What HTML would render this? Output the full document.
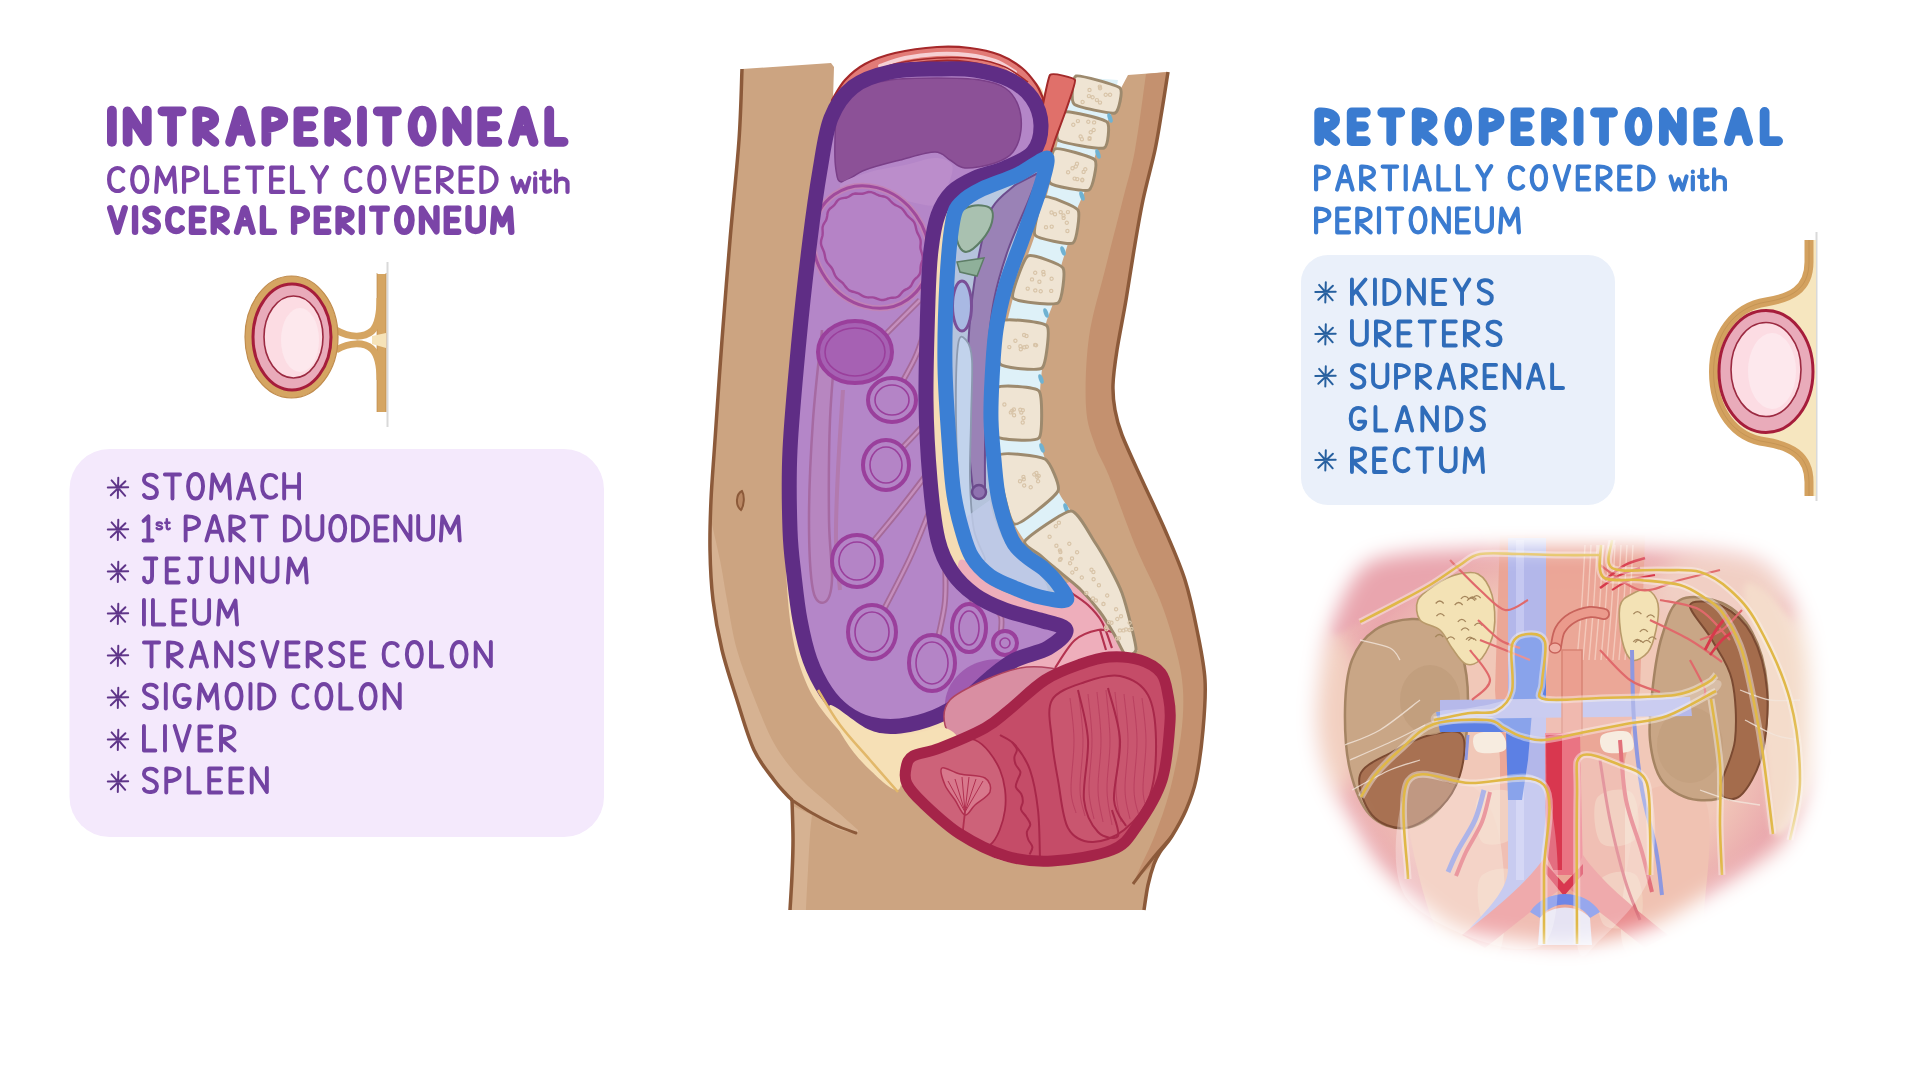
<!DOCTYPE html>
<html><head><meta charset="utf-8"><title>Intraperitoneal vs Retroperitoneal</title>
<style>
html,body{margin:0;padding:0;background:#fff;}
body{width:1920px;height:1080px;overflow:hidden;position:relative;font-family:"Liberation Sans",sans-serif;}
svg{position:absolute;left:0;top:0;}
.tb{font-family:"Liberation Sans",sans-serif;font-weight:bold;}
.tr{font-family:"Liberation Sans",sans-serif;font-weight:normal;}
</style></head>
<body>
<svg width="1920" height="1080" viewBox="0 0 1920 1080">
<defs>
  <g id="ast">
    <path d="M0.3,-10.2L-0.2,10M-10.2,-0.6L10.2,-0.8M-6.4,-7.6L7.2,7.8M7.4,-6.8L-7.2,7.2" stroke-width="2" stroke-linecap="round" fill="none"/>
  </g>
</defs>

<!-- ===== LEFT: INTRAPERITONEAL ===== -->


<!-- intraperitoneal icon -->
<g id="icon1">
  <line x1="387.5" y1="262" x2="387.5" y2="427" stroke="#d9d9d9" stroke-width="2"/>
  <path d="M381.5,274 V412" stroke="#d5a562" stroke-width="9" fill="none"/>
  <path d="M377,273 V412 M386,273 V412" stroke="#be8c4e" stroke-width="1" fill="none" opacity="0.7"/>
  <path d="M372,336 L386,333 L386,348 L372,344Z" fill="#f6e3b8"/>
  <path d="M336,330 C350,338 364,338 372,331 C378,325 380,315 380,298" stroke="#d5a562" stroke-width="7" fill="none"/>
  <path d="M336,350 C350,342 364,342 372,349 C378,355 380,365 380,380" stroke="#d5a562" stroke-width="7" fill="none"/>
  <ellipse cx="291.5" cy="337" rx="46.5" ry="61" fill="#d5a562" stroke="#c08c4e" stroke-width="1.2"/>
  <ellipse cx="292" cy="337" rx="39" ry="53" fill="#e9abba" stroke="#a61d3b" stroke-width="3"/>
  <ellipse cx="293.5" cy="337" rx="29.5" ry="41" fill="#fcdce3" stroke="#9b2a41" stroke-width="1.6"/>
  <ellipse cx="300" cy="340" rx="19" ry="32" fill="#fde8ed"/>
</g>

<!-- list box left -->
<rect x="69.5" y="449" width="534.5" height="388" rx="40" ry="40" fill="#f4e9fc"/>

<g stroke="#5f3589">
  <use href="#ast" x="118" y="488"/>
  <use href="#ast" x="118" y="530"/>
  <use href="#ast" x="118" y="572"/>
  <use href="#ast" x="118" y="614"/>
  <use href="#ast" x="118" y="656"/>
  <use href="#ast" x="118" y="698"/>
  <use href="#ast" x="118" y="740"/>
  <use href="#ast" x="118" y="782"/>
</g>

<!-- ===== RIGHT: RETROPERITONEAL ===== -->


<rect x="1301" y="255" width="314" height="250" rx="27" ry="27" fill="#eaf0fa"/>

<g stroke="#27609f">
  <use href="#ast" x="1325.5" y="292.5"/>
  <use href="#ast" x="1325.5" y="334.5"/>
  <use href="#ast" x="1325.5" y="376.5"/>
  <use href="#ast" x="1325.5" y="460.5"/>
</g>

<!-- retroperitoneal icon -->
<g id="icon2">
  <line x1="1816.5" y1="232" x2="1816.5" y2="501" stroke="#d9d9d9" stroke-width="2"/>
  <path d="M1813,240 V262 C1813,292 1792,300 1766,304 C1735,309 1716,336 1716,372 C1716,408 1735,436 1766,440 C1792,444 1813,452 1813,482 V496 L1816,496 V240 Z" fill="#f6e6bf"/>
  <path d="M1809,240 V262 C1809,290 1790,298 1766,302 C1734,307 1713.5,335 1713.5,372 C1713.5,410 1734,438 1766,442 C1790,446 1809,455 1809,482 V496" stroke="#d3a15f" stroke-width="9" fill="none"/>
  <path d="M1809,240 V262 C1809,290 1790,298 1766,302 C1734,307 1713.5,335 1713.5,372 C1713.5,410 1734,438 1766,442 C1790,446 1809,455 1809,482 V496" stroke="#b8874a" stroke-width="1" fill="none" opacity="0.5"/>
  <ellipse cx="1766" cy="371.5" rx="47" ry="61" fill="#e9abba" stroke="#a61d3b" stroke-width="3"/>
  <ellipse cx="1766" cy="369.5" rx="35" ry="47" fill="#fcdce3" stroke="#9b2a41" stroke-width="1.6"/>
  <ellipse cx="1772" cy="371" rx="24" ry="38" fill="#fde8ed"/>
</g>

<!-- CENTRAL FIGURE placeholder -->
<g id="center"><path d="M742.0,69.0 L831.0,63.0 L834.0,67.0 L833.0,100.0 L832.0,100.0 C834.2,96.7 839.5,86.0 845.0,80.0 C850.5,74.0 856.7,68.5 865.0,64.0 C873.3,59.5 883.0,55.8 895.0,53.0 C907.0,50.2 924.5,47.8 937.0,47.0 C949.5,46.2 959.5,46.7 970.0,48.0 C980.5,49.3 991.3,51.7 1000.0,55.0 C1008.7,58.3 1016.0,63.2 1022.0,68.0 C1028.0,72.8 1032.5,79.0 1036.0,84.0 C1039.5,89.0 1041.8,95.7 1043.0,98.0 L1050.0,75.0 L1075.0,80.0 L1078.0,77.0 L1120.0,90.0 L1128.0,75.0 L1168.0,72.0 C1167.0,78.3 1164.2,97.0 1162.0,110.0 C1159.8,123.0 1158.2,135.0 1155.0,150.0 C1151.8,165.0 1146.5,183.3 1143.0,200.0 C1139.5,216.7 1136.8,233.3 1134.0,250.0 C1131.2,266.7 1128.8,283.3 1126.0,300.0 C1123.2,316.7 1119.2,335.8 1117.0,350.0 C1114.8,364.2 1113.3,375.0 1113.0,385.0 C1112.7,395.0 1113.5,401.7 1115.0,410.0 C1116.5,418.3 1117.5,423.3 1122.0,435.0 C1126.5,446.7 1134.8,464.2 1142.0,480.0 C1149.2,495.8 1157.8,513.3 1165.0,530.0 C1172.2,546.7 1179.7,563.3 1185.0,580.0 C1190.3,596.7 1193.7,613.3 1197.0,630.0 C1200.3,646.7 1204.0,663.3 1205.0,680.0 C1206.0,696.7 1204.5,713.3 1203.0,730.0 C1201.5,746.7 1198.8,766.7 1196.0,780.0 C1193.2,793.3 1190.0,800.7 1186.0,810.0 C1182.0,819.3 1176.3,829.0 1172.0,836.0 C1167.7,843.0 1163.0,847.3 1160.0,852.0 C1157.0,856.7 1156.0,858.5 1154.0,864.0 C1152.0,869.5 1149.7,877.3 1148.0,885.0 C1146.3,892.7 1144.7,905.8 1144.0,910.0 L1145.0,910.0 L790.0,910.0 C790.3,904.2 791.5,886.7 792.0,875.0 C792.5,863.3 793.0,852.5 793.0,840.0 C793.0,827.5 792.2,806.7 792.0,800.0 C791.0,799.0 789.0,797.3 786.0,794.0 C783.0,790.7 779.3,787.3 774.0,780.0 C768.7,772.7 760.2,763.3 754.0,750.0 C747.8,736.7 742.3,716.7 737.0,700.0 C731.7,683.3 726.0,666.7 722.0,650.0 C718.0,633.3 715.0,616.7 713.0,600.0 C711.0,583.3 710.3,566.7 710.0,550.0 C709.7,533.3 710.2,518.3 711.0,500.0 C711.8,481.7 713.2,466.7 715.0,440.0 C716.8,413.3 719.5,373.3 722.0,340.0 C724.5,306.7 727.2,273.3 730.0,240.0 C732.8,206.7 737.0,168.5 739.0,140.0 C741.0,111.5 741.5,80.8 742.0,69.0Z" fill="#cca481"/><path d="M1146.0,74.0 C1144.2,86.7 1138.8,129.2 1135.0,150.0 C1131.2,170.8 1128.0,179.0 1123.0,199.0 C1118.0,219.0 1110.7,247.0 1105.0,270.0 C1099.3,293.0 1092.2,314.2 1089.0,337.0 C1085.8,359.8 1085.0,389.0 1086.0,407.0 C1087.0,425.0 1091.2,433.5 1095.0,445.0 C1098.8,456.5 1102.3,459.3 1109.0,476.0 C1115.7,492.7 1126.5,524.3 1135.0,545.0 C1143.5,565.7 1153.2,582.5 1160.0,600.0 C1166.8,617.5 1172.2,635.0 1176.0,650.0 C1179.8,665.0 1182.2,675.8 1183.0,690.0 C1183.8,704.2 1183.2,718.3 1181.0,735.0 C1178.8,751.7 1174.3,773.3 1170.0,790.0 C1165.7,806.7 1160.0,822.0 1155.0,835.0 C1150.0,848.0 1143.3,860.5 1140.0,868.0 C1136.7,875.5 1135.8,878.0 1135.0,880.0 L1154.0,864.0 C1155.0,862.0 1157.0,856.7 1160.0,852.0 C1163.0,847.3 1167.7,843.0 1172.0,836.0 C1176.3,829.0 1182.0,819.3 1186.0,810.0 C1190.0,800.7 1193.2,793.3 1196.0,780.0 C1198.8,766.7 1201.5,746.7 1203.0,730.0 C1204.5,713.3 1206.0,696.7 1205.0,680.0 C1204.0,663.3 1200.3,646.7 1197.0,630.0 C1193.7,613.3 1190.3,596.7 1185.0,580.0 C1179.7,563.3 1172.2,546.7 1165.0,530.0 C1157.8,513.3 1149.2,495.8 1142.0,480.0 C1134.8,464.2 1126.5,446.7 1122.0,435.0 C1117.5,423.3 1116.5,418.3 1115.0,410.0 C1113.5,401.7 1112.7,395.0 1113.0,385.0 C1113.3,375.0 1114.8,364.2 1117.0,350.0 C1119.2,335.8 1123.2,316.7 1126.0,300.0 C1128.8,283.3 1131.2,266.7 1134.0,250.0 C1136.8,233.3 1139.5,216.7 1143.0,200.0 C1146.5,183.3 1151.8,165.0 1155.0,150.0 C1158.2,135.0 1159.8,123.0 1162.0,110.0 C1164.2,97.0 1167.0,78.3 1168.0,72.0Z" fill="#c4916f"/><path d="M711.0,520.0 C711.3,533.3 711.2,578.3 713.0,600.0 C714.8,621.7 718.0,633.3 722.0,650.0 C726.0,666.7 731.7,683.3 737.0,700.0 C742.3,716.7 747.8,736.7 754.0,750.0 C760.2,763.3 768.7,772.7 774.0,780.0 C779.3,787.3 783.0,790.7 786.0,794.0 C789.0,797.3 791.0,799.0 792.0,800.0 C795.8,802.5 807.8,810.3 815.0,815.0 C822.2,819.7 827.8,824.8 835.0,828.0 C842.2,831.2 854.2,833.0 858.0,834.0 L858.0,830.0 C853.3,825.8 839.7,813.7 830.0,805.0 C820.3,796.3 809.2,788.0 800.0,778.0 C790.8,768.0 782.5,758.0 775.0,745.0 C767.5,732.0 761.3,715.8 755.0,700.0 C748.7,684.2 741.7,666.7 737.0,650.0 C732.3,633.3 729.8,615.0 727.0,600.0 C724.2,585.0 722.7,573.3 720.0,560.0 C717.3,546.7 712.5,526.7 711.0,520.0Z" fill="#d6b292"/><path d="M793.0,806.0 C793.3,811.7 794.8,828.5 795.0,840.0 C795.2,851.5 794.5,863.3 794.0,875.0 C793.5,886.7 792.3,904.2 792.0,910.0 L806.0,910.0 C806.3,903.3 807.3,882.5 808.0,870.0 C808.7,857.5 809.3,844.2 810.0,835.0 C810.7,825.8 811.7,818.3 812.0,815.0Z" fill="#d6b292"/><path d="M792.0,800.0 C795.3,802.2 804.8,808.8 812.0,813.0 C819.2,817.2 827.7,821.7 835.0,825.0 C842.3,828.3 852.5,831.7 856.0,833.0" fill="none" stroke="#8c5a3a" stroke-width="3" stroke-linecap="round"/><path d="M742.0,69.0 C741.5,80.8 741.0,111.5 739.0,140.0 C737.0,168.5 732.8,206.7 730.0,240.0 C727.2,273.3 724.5,306.7 722.0,340.0 C719.5,373.3 716.8,413.3 715.0,440.0 C713.2,466.7 711.8,481.7 711.0,500.0 C710.2,518.3 709.7,533.3 710.0,550.0 C710.3,566.7 711.0,583.3 713.0,600.0 C715.0,616.7 718.0,633.3 722.0,650.0 C726.0,666.7 731.7,683.3 737.0,700.0 C742.3,716.7 747.8,736.7 754.0,750.0 C760.2,763.3 768.7,772.7 774.0,780.0 C779.3,787.3 783.0,790.7 786.0,794.0 C789.0,797.3 791.0,799.0 792.0,800.0" fill="none" stroke="#8c5a3a" stroke-width="3.5" stroke-linejoin="round"/><path d="M792.0,800.0 C792.2,806.7 793.0,827.5 793.0,840.0 C793.0,852.5 792.5,863.3 792.0,875.0 C791.5,886.7 790.3,904.2 790.0,910.0" fill="none" stroke="#8c5a3a" stroke-width="3.5"/><path d="M1168.0,72.0 C1167.0,78.3 1164.2,97.0 1162.0,110.0 C1159.8,123.0 1158.2,135.0 1155.0,150.0 C1151.8,165.0 1146.5,183.3 1143.0,200.0 C1139.5,216.7 1136.8,233.3 1134.0,250.0 C1131.2,266.7 1128.8,283.3 1126.0,300.0 C1123.2,316.7 1119.2,335.8 1117.0,350.0 C1114.8,364.2 1113.3,375.0 1113.0,385.0 C1112.7,395.0 1113.5,401.7 1115.0,410.0 C1116.5,418.3 1117.5,423.3 1122.0,435.0 C1126.5,446.7 1134.8,464.2 1142.0,480.0 C1149.2,495.8 1157.8,513.3 1165.0,530.0 C1172.2,546.7 1179.7,563.3 1185.0,580.0 C1190.3,596.7 1193.7,613.3 1197.0,630.0 C1200.3,646.7 1204.0,663.3 1205.0,680.0 C1206.0,696.7 1204.5,713.3 1203.0,730.0 C1201.5,746.7 1198.8,766.7 1196.0,780.0 C1193.2,793.3 1190.0,800.7 1186.0,810.0 C1182.0,819.3 1176.3,829.0 1172.0,836.0 C1167.7,843.0 1163.0,847.3 1160.0,852.0 C1157.0,856.7 1156.0,858.5 1154.0,864.0 C1152.0,869.5 1149.7,877.3 1148.0,885.0 C1146.3,892.7 1144.7,905.8 1144.0,910.0" fill="none" stroke="#8c5a3a" stroke-width="3.5"/><path d="M1172.0,836.0 C1169.7,838.7 1162.5,846.7 1158.0,852.0 C1153.5,857.3 1149.2,862.7 1145.0,868.0 C1140.8,873.3 1135.0,881.3 1133.0,884.0" fill="none" stroke="#8c5a3a" stroke-width="3"/><path d="M742,491 C736,494 735,505 741,510 C744,506 745,496 742,491Z" fill="#b98763" stroke="#8c5a3a" stroke-width="2"/><path d="M833.0,100.0 C838.8,85.0 838.8,86.7 850.0,80.0 C861.2,73.3 881.7,63.7 900.0,60.0 C918.3,56.3 938.3,54.7 960.0,58.0 C981.7,61.3 1015.8,72.2 1030.0,80.0 C1044.2,87.8 1043.3,90.0 1045.0,105.0 C1046.7,120.0 1047.5,154.2 1040.0,170.0 C1032.5,185.8 1013.3,188.3 1000.0,200.0 C986.7,211.7 969.2,206.7 960.0,240.0 C950.8,273.3 945.0,350.0 945.0,400.0 C945.0,450.0 950.8,508.3 960.0,540.0 C969.2,571.7 983.3,580.0 1000.0,590.0 C1016.7,600.0 1043.3,593.3 1060.0,600.0 C1076.7,606.7 1090.0,620.0 1100.0,630.0 C1110.0,640.0 1115.0,645.0 1120.0,660.0 C1125.0,675.0 1130.0,696.7 1130.0,720.0 C1130.0,743.3 1128.3,778.3 1120.0,800.0 C1111.7,821.7 1100.0,840.0 1080.0,850.0 C1060.0,860.0 1026.7,868.3 1000.0,860.0 C973.3,851.7 941.7,816.7 920.0,800.0 C898.3,783.3 885.0,773.3 870.0,760.0 C855.0,746.7 840.8,733.3 830.0,720.0 C819.2,706.7 811.7,696.7 805.0,680.0 C798.3,663.3 793.3,646.7 790.0,620.0 C786.7,593.3 785.0,556.7 785.0,520.0 C785.0,483.3 787.5,440.0 790.0,400.0 C792.5,360.0 795.8,318.3 800.0,280.0 C804.2,241.7 809.5,200.0 815.0,170.0 C820.5,140.0 827.2,115.0 833.0,100.0Z" fill="#f5dcb4"/><path d="M960.0,560.0 C965.8,555.0 986.7,583.3 1000.0,590.0 C1013.3,596.7 1029.7,600.8 1040.0,600.0 C1050.3,599.2 1055.3,588.0 1062.0,585.0 C1068.7,582.0 1074.5,579.8 1080.0,582.0 C1085.5,584.2 1090.0,592.0 1095.0,598.0 C1100.0,604.0 1105.5,611.0 1110.0,618.0 C1114.5,625.0 1119.0,632.7 1122.0,640.0 C1125.0,647.3 1131.7,657.0 1128.0,662.0 C1124.3,667.0 1111.3,668.7 1100.0,670.0 C1088.7,671.3 1073.3,670.5 1060.0,670.0 C1046.7,669.5 1031.7,670.3 1020.0,667.0 C1008.3,663.7 999.2,657.8 990.0,650.0 C980.8,642.2 970.0,635.0 965.0,620.0 C960.0,605.0 954.2,565.0 960.0,560.0Z" fill="#eeaebb"/><path d="M1070.0,592.0 C1073.0,594.2 1082.7,600.0 1088.0,605.0 C1093.3,610.0 1098.0,614.8 1102.0,622.0 C1106.0,629.2 1110.3,643.7 1112.0,648.0 M1055.0,668.0 C1058.3,663.3 1067.8,646.3 1075.0,640.0 C1082.2,633.7 1091.8,631.3 1098.0,630.0 C1104.2,628.7 1109.7,631.7 1112.0,632.0 M1100.0,630.0 C1101.0,633.3 1105.0,646.7 1106.0,650.0 M1000.0,612.0 C1003.3,614.2 1012.5,621.7 1020.0,625.0 C1027.5,628.3 1040.8,630.8 1045.0,632.0" fill="none" stroke="#b3324f" stroke-width="2.2"/><path d="M1074.0,77.0 C1071.3,87.5 1062.0,122.3 1058.0,140.0 C1054.0,157.7 1053.8,167.2 1050.0,183.0 C1046.2,198.8 1041.2,215.8 1035.0,235.0 C1028.8,254.2 1018.8,276.7 1013.0,298.0 C1007.2,319.3 1003.0,340.2 1000.0,363.0 C997.0,385.8 995.5,415.5 995.0,435.0 C994.5,454.5 995.3,467.5 997.0,480.0 C998.7,492.5 1002.2,502.7 1005.0,510.0 C1007.8,517.3 1010.7,518.8 1014.0,524.0 C1017.3,529.2 1020.7,535.8 1025.0,541.0 C1029.3,546.2 1035.0,550.5 1040.0,555.0 C1045.0,559.5 1048.3,562.3 1055.0,568.0 C1061.7,573.7 1072.5,581.7 1080.0,589.0 C1087.5,596.3 1094.3,604.7 1100.0,612.0 C1105.7,619.3 1110.0,626.0 1114.0,633.0 C1118.0,640.0 1122.3,650.5 1124.0,654.0 L1138.0,650.0 C1137.7,649.5 1138.2,653.7 1136.0,647.0 C1133.8,640.3 1129.3,622.3 1125.0,610.0 C1120.7,597.7 1115.2,584.5 1110.0,573.0 C1104.8,561.5 1100.5,551.3 1094.0,541.0 C1087.5,530.7 1077.0,519.3 1071.0,511.0 C1065.0,502.7 1062.2,499.2 1058.0,491.0 C1053.8,482.8 1049.0,471.0 1046.0,462.0 C1043.0,453.0 1041.0,448.2 1040.0,437.0 C1039.0,425.8 1039.7,406.5 1040.0,395.0 C1040.3,383.5 1041.2,379.2 1042.0,368.0 C1042.8,356.8 1043.0,339.3 1045.0,328.0 C1047.0,316.7 1051.5,309.7 1054.0,300.0 C1056.5,290.3 1057.5,280.0 1060.0,270.0 C1062.5,260.0 1066.3,249.7 1069.0,240.0 C1071.7,230.3 1073.2,220.7 1076.0,212.0 C1078.8,203.3 1083.0,196.7 1086.0,188.0 C1089.0,179.3 1091.2,169.7 1094.0,160.0 C1096.8,150.3 1100.0,138.0 1103.0,130.0 C1106.0,122.0 1109.5,120.3 1112.0,112.0 C1114.5,103.7 1117.0,85.3 1118.0,80.0Z" fill="#def1f8"/><path d="M1076.0,76.0 C1079.8,74.7 1116.8,84.9 1120.0,88.0 C1123.2,91.1 1118.8,111.7 1115.0,113.0 C1111.2,114.3 1077.2,107.1 1074.0,104.0 C1070.8,100.9 1072.2,77.3 1076.0,76.0Z" fill="#efe4d3" stroke="#9d8a6e" stroke-width="3" stroke-linejoin="round"/><path d="M1065.0,112.0 C1069.1,110.5 1103.8,119.0 1107.0,122.0 C1110.2,125.0 1108.1,146.5 1104.0,148.0 C1099.9,149.5 1061.2,143.0 1058.0,140.0 C1054.8,137.0 1060.9,113.5 1065.0,112.0Z" fill="#efe4d3" stroke="#9d8a6e" stroke-width="3" stroke-linejoin="round"/><path d="M1055.0,149.0 C1058.8,147.1 1092.2,156.6 1095.0,160.0 C1097.8,163.4 1092.8,188.1 1089.0,190.0 C1085.2,191.9 1052.8,186.4 1050.0,183.0 C1047.2,179.6 1051.2,150.9 1055.0,149.0Z" fill="#efe4d3" stroke="#9d8a6e" stroke-width="3" stroke-linejoin="round"/><path d="M1044.0,197.0 C1047.6,194.9 1075.6,206.2 1078.0,210.0 C1080.4,213.8 1076.6,240.9 1073.0,243.0 C1069.4,245.1 1037.4,238.8 1035.0,235.0 C1032.6,231.2 1040.4,199.1 1044.0,197.0Z" fill="#efe4d3" stroke="#9d8a6e" stroke-width="3" stroke-linejoin="round"/><path d="M1028.0,256.0 C1032.2,253.5 1060.5,264.1 1063.0,268.0 C1065.5,271.9 1062.2,300.5 1058.0,303.0 C1053.8,305.5 1015.5,301.9 1013.0,298.0 C1010.5,294.1 1023.8,258.5 1028.0,256.0Z" fill="#efe4d3" stroke="#9d8a6e" stroke-width="3" stroke-linejoin="round"/><path d="M1002.0,321.0 C1005.9,317.8 1043.7,322.1 1047.0,326.0 C1050.3,329.9 1045.9,364.8 1042.0,368.0 C1038.1,371.2 1003.3,367.9 1000.0,364.0 C996.7,360.1 998.1,324.2 1002.0,321.0Z" fill="#efe4d3" stroke="#9d8a6e" stroke-width="3" stroke-linejoin="round"/><path d="M997.0,388.0 C1000.6,384.2 1035.5,386.8 1039.0,391.0 C1042.5,395.2 1042.6,434.2 1039.0,438.0 C1035.4,441.8 999.5,440.2 996.0,436.0 C992.5,431.8 993.4,391.8 997.0,388.0Z" fill="#efe4d3" stroke="#9d8a6e" stroke-width="3" stroke-linejoin="round"/><path d="M998.0,456.0 C1000.6,450.6 1040.0,456.1 1045.0,459.0 C1050.0,461.9 1060.6,485.6 1058.0,491.0 C1055.4,496.4 1019.0,526.9 1014.0,524.0 C1009.0,521.1 995.4,461.4 998.0,456.0Z" fill="#efe4d3" stroke="#9d8a6e" stroke-width="3" stroke-linejoin="round"/><ellipse cx="1110" cy="118" rx="2.2" ry="5" fill="#6fb2d2" transform="rotate(-20 1110 118)"/><ellipse cx="1098" cy="154" rx="2.2" ry="5" fill="#6fb2d2" transform="rotate(-20 1098 154)"/><ellipse cx="1082" cy="196" rx="2.2" ry="5" fill="#6fb2d2" transform="rotate(-20 1082 196)"/><ellipse cx="1063" cy="251" rx="2.2" ry="5" fill="#6fb2d2" transform="rotate(-20 1063 251)"/><ellipse cx="1046" cy="313" rx="2.2" ry="5" fill="#6fb2d2" transform="rotate(-20 1046 313)"/><ellipse cx="1041" cy="379" rx="2.2" ry="5" fill="#6fb2d2" transform="rotate(-20 1041 379)"/><ellipse cx="1042" cy="448" rx="2.2" ry="5" fill="#6fb2d2" transform="rotate(-20 1042 448)"/><ellipse cx="1066" cy="508" rx="2.2" ry="5" fill="#6fb2d2" transform="rotate(-20 1066 508)"/><path d="M1025.0,541.0 C1028.1,536.6 1064.1,511.0 1071.0,511.0 C1077.9,511.0 1090.1,535.3 1094.0,541.0 C1097.9,546.7 1107.2,562.8 1110.0,568.0 C1112.8,573.2 1119.9,587.3 1122.0,593.0 C1124.1,598.7 1129.6,619.3 1131.0,625.0 C1132.4,630.7 1136.5,646.9 1136.0,650.0 C1135.5,653.1 1128.2,657.6 1126.0,656.0 C1123.8,654.4 1116.6,638.4 1114.0,634.0 C1111.4,629.6 1103.4,616.5 1100.0,612.0 C1096.6,607.5 1084.5,593.4 1080.0,589.0 C1075.5,584.6 1059.0,571.4 1055.0,568.0 C1051.0,564.6 1043.0,557.7 1040.0,555.0 C1037.0,552.3 1021.9,545.4 1025.0,541.0Z" fill="#efe4d3" stroke="#9d8a6e" stroke-width="3" stroke-linejoin="round"/><path d="M1088.9,96.1 m-1.6,0 a1.6,1.6 0 1,0 3.2,0 a1.6,1.6 0 1,0 -3.2,0 M1092.6,97.3 m-1.6,0 a1.6,1.6 0 1,0 3.2,0 a1.6,1.6 0 1,0 -3.2,0 M1099.8,86.6 m-1.6,0 a1.6,1.6 0 1,0 3.2,0 a1.6,1.6 0 1,0 -3.2,0 M1082.6,102.0 m-1.6,0 a1.6,1.6 0 1,0 3.2,0 a1.6,1.6 0 1,0 -3.2,0 M1089.5,89.9 m-1.6,0 a1.6,1.6 0 1,0 3.2,0 a1.6,1.6 0 1,0 -3.2,0 M1110.1,94.7 m-1.6,0 a1.6,1.6 0 1,0 3.2,0 a1.6,1.6 0 1,0 -3.2,0 M1105.7,94.8 m-1.6,0 a1.6,1.6 0 1,0 3.2,0 a1.6,1.6 0 1,0 -3.2,0 M1100.1,88.3 m-1.6,0 a1.6,1.6 0 1,0 3.2,0 a1.6,1.6 0 1,0 -3.2,0 M1100.0,102.6 m-1.6,0 a1.6,1.6 0 1,0 3.2,0 a1.6,1.6 0 1,0 -3.2,0 M1096.9,100.1 m-1.6,0 a1.6,1.6 0 1,0 3.2,0 a1.6,1.6 0 1,0 -3.2,0 M1088.3,121.8 m-1.6,0 a1.6,1.6 0 1,0 3.2,0 a1.6,1.6 0 1,0 -3.2,0 M1090.7,132.3 m-1.6,0 a1.6,1.6 0 1,0 3.2,0 a1.6,1.6 0 1,0 -3.2,0 M1077.9,121.1 m-1.6,0 a1.6,1.6 0 1,0 3.2,0 a1.6,1.6 0 1,0 -3.2,0 M1093.7,130.0 m-1.6,0 a1.6,1.6 0 1,0 3.2,0 a1.6,1.6 0 1,0 -3.2,0 M1089.6,138.1 m-1.6,0 a1.6,1.6 0 1,0 3.2,0 a1.6,1.6 0 1,0 -3.2,0 M1089.5,138.9 m-1.6,0 a1.6,1.6 0 1,0 3.2,0 a1.6,1.6 0 1,0 -3.2,0 M1080.6,136.5 m-1.6,0 a1.6,1.6 0 1,0 3.2,0 a1.6,1.6 0 1,0 -3.2,0 M1081.9,139.2 m-1.6,0 a1.6,1.6 0 1,0 3.2,0 a1.6,1.6 0 1,0 -3.2,0 M1094.1,122.4 m-1.6,0 a1.6,1.6 0 1,0 3.2,0 a1.6,1.6 0 1,0 -3.2,0 M1073.3,124.8 m-1.6,0 a1.6,1.6 0 1,0 3.2,0 a1.6,1.6 0 1,0 -3.2,0 M1085.3,169.2 m-1.6,0 a1.6,1.6 0 1,0 3.2,0 a1.6,1.6 0 1,0 -3.2,0 M1075.8,166.5 m-1.6,0 a1.6,1.6 0 1,0 3.2,0 a1.6,1.6 0 1,0 -3.2,0 M1072.5,168.2 m-1.6,0 a1.6,1.6 0 1,0 3.2,0 a1.6,1.6 0 1,0 -3.2,0 M1068.1,172.2 m-1.6,0 a1.6,1.6 0 1,0 3.2,0 a1.6,1.6 0 1,0 -3.2,0 M1074.6,178.6 m-1.6,0 a1.6,1.6 0 1,0 3.2,0 a1.6,1.6 0 1,0 -3.2,0 M1077.3,179.1 m-1.6,0 a1.6,1.6 0 1,0 3.2,0 a1.6,1.6 0 1,0 -3.2,0 M1082.2,180.3 m-1.6,0 a1.6,1.6 0 1,0 3.2,0 a1.6,1.6 0 1,0 -3.2,0 M1077.0,163.8 m-1.6,0 a1.6,1.6 0 1,0 3.2,0 a1.6,1.6 0 1,0 -3.2,0 M1082.3,179.8 m-1.6,0 a1.6,1.6 0 1,0 3.2,0 a1.6,1.6 0 1,0 -3.2,0 M1083.6,171.9 m-1.6,0 a1.6,1.6 0 1,0 3.2,0 a1.6,1.6 0 1,0 -3.2,0 M1063.5,215.5 m-1.6,0 a1.6,1.6 0 1,0 3.2,0 a1.6,1.6 0 1,0 -3.2,0 M1066.8,222.7 m-1.6,0 a1.6,1.6 0 1,0 3.2,0 a1.6,1.6 0 1,0 -3.2,0 M1051.5,212.5 m-1.6,0 a1.6,1.6 0 1,0 3.2,0 a1.6,1.6 0 1,0 -3.2,0 M1067.4,231.0 m-1.6,0 a1.6,1.6 0 1,0 3.2,0 a1.6,1.6 0 1,0 -3.2,0 M1046.0,227.3 m-1.6,0 a1.6,1.6 0 1,0 3.2,0 a1.6,1.6 0 1,0 -3.2,0 M1055.0,214.3 m-1.6,0 a1.6,1.6 0 1,0 3.2,0 a1.6,1.6 0 1,0 -3.2,0 M1051.7,226.6 m-1.6,0 a1.6,1.6 0 1,0 3.2,0 a1.6,1.6 0 1,0 -3.2,0 M1067.9,212.1 m-1.6,0 a1.6,1.6 0 1,0 3.2,0 a1.6,1.6 0 1,0 -3.2,0 M1060.7,212.1 m-1.6,0 a1.6,1.6 0 1,0 3.2,0 a1.6,1.6 0 1,0 -3.2,0 M1063.6,217.9 m-1.6,0 a1.6,1.6 0 1,0 3.2,0 a1.6,1.6 0 1,0 -3.2,0 M1051.2,290.9 m-1.6,0 a1.6,1.6 0 1,0 3.2,0 a1.6,1.6 0 1,0 -3.2,0 M1040.7,291.2 m-1.6,0 a1.6,1.6 0 1,0 3.2,0 a1.6,1.6 0 1,0 -3.2,0 M1035.2,272.8 m-1.6,0 a1.6,1.6 0 1,0 3.2,0 a1.6,1.6 0 1,0 -3.2,0 M1043.3,271.9 m-1.6,0 a1.6,1.6 0 1,0 3.2,0 a1.6,1.6 0 1,0 -3.2,0 M1032.0,279.4 m-1.6,0 a1.6,1.6 0 1,0 3.2,0 a1.6,1.6 0 1,0 -3.2,0 M1043.6,274.4 m-1.6,0 a1.6,1.6 0 1,0 3.2,0 a1.6,1.6 0 1,0 -3.2,0 M1027.7,288.6 m-1.6,0 a1.6,1.6 0 1,0 3.2,0 a1.6,1.6 0 1,0 -3.2,0 M1035.3,290.4 m-1.6,0 a1.6,1.6 0 1,0 3.2,0 a1.6,1.6 0 1,0 -3.2,0 M1051.6,278.8 m-1.6,0 a1.6,1.6 0 1,0 3.2,0 a1.6,1.6 0 1,0 -3.2,0 M1039.4,281.7 m-1.6,0 a1.6,1.6 0 1,0 3.2,0 a1.6,1.6 0 1,0 -3.2,0 M1026.8,346.7 m-1.6,0 a1.6,1.6 0 1,0 3.2,0 a1.6,1.6 0 1,0 -3.2,0 M1024.4,347.2 m-1.6,0 a1.6,1.6 0 1,0 3.2,0 a1.6,1.6 0 1,0 -3.2,0 M1035.1,344.9 m-1.6,0 a1.6,1.6 0 1,0 3.2,0 a1.6,1.6 0 1,0 -3.2,0 M1020.8,349.2 m-1.6,0 a1.6,1.6 0 1,0 3.2,0 a1.6,1.6 0 1,0 -3.2,0 M1015.4,340.8 m-1.6,0 a1.6,1.6 0 1,0 3.2,0 a1.6,1.6 0 1,0 -3.2,0 M1036.1,345.2 m-1.6,0 a1.6,1.6 0 1,0 3.2,0 a1.6,1.6 0 1,0 -3.2,0 M1024.1,335.0 m-1.6,0 a1.6,1.6 0 1,0 3.2,0 a1.6,1.6 0 1,0 -3.2,0 M1020.4,346.3 m-1.6,0 a1.6,1.6 0 1,0 3.2,0 a1.6,1.6 0 1,0 -3.2,0 M1009.3,347.1 m-1.6,0 a1.6,1.6 0 1,0 3.2,0 a1.6,1.6 0 1,0 -3.2,0 M1026.5,336.0 m-1.6,0 a1.6,1.6 0 1,0 3.2,0 a1.6,1.6 0 1,0 -3.2,0 M1021.3,412.6 m-1.6,0 a1.6,1.6 0 1,0 3.2,0 a1.6,1.6 0 1,0 -3.2,0 M1022.8,410.3 m-1.6,0 a1.6,1.6 0 1,0 3.2,0 a1.6,1.6 0 1,0 -3.2,0 M1023.5,418.0 m-1.6,0 a1.6,1.6 0 1,0 3.2,0 a1.6,1.6 0 1,0 -3.2,0 M1004.4,404.5 m-1.6,0 a1.6,1.6 0 1,0 3.2,0 a1.6,1.6 0 1,0 -3.2,0 M1022.7,422.5 m-1.6,0 a1.6,1.6 0 1,0 3.2,0 a1.6,1.6 0 1,0 -3.2,0 M1010.8,412.4 m-1.6,0 a1.6,1.6 0 1,0 3.2,0 a1.6,1.6 0 1,0 -3.2,0 M1020.3,409.7 m-1.6,0 a1.6,1.6 0 1,0 3.2,0 a1.6,1.6 0 1,0 -3.2,0 M1013.9,409.5 m-1.6,0 a1.6,1.6 0 1,0 3.2,0 a1.6,1.6 0 1,0 -3.2,0 M1014.1,415.2 m-1.6,0 a1.6,1.6 0 1,0 3.2,0 a1.6,1.6 0 1,0 -3.2,0 M1012.2,410.8 m-1.6,0 a1.6,1.6 0 1,0 3.2,0 a1.6,1.6 0 1,0 -3.2,0 M1036.4,473.0 m-1.6,0 a1.6,1.6 0 1,0 3.2,0 a1.6,1.6 0 1,0 -3.2,0 M1030.7,487.2 m-1.6,0 a1.6,1.6 0 1,0 3.2,0 a1.6,1.6 0 1,0 -3.2,0 M1023.4,477.0 m-1.6,0 a1.6,1.6 0 1,0 3.2,0 a1.6,1.6 0 1,0 -3.2,0 M1037.3,477.3 m-1.6,0 a1.6,1.6 0 1,0 3.2,0 a1.6,1.6 0 1,0 -3.2,0 M1020.0,481.2 m-1.6,0 a1.6,1.6 0 1,0 3.2,0 a1.6,1.6 0 1,0 -3.2,0 M1034.3,474.5 m-1.6,0 a1.6,1.6 0 1,0 3.2,0 a1.6,1.6 0 1,0 -3.2,0 M1023.8,479.2 m-1.6,0 a1.6,1.6 0 1,0 3.2,0 a1.6,1.6 0 1,0 -3.2,0 M1038.1,481.3 m-1.6,0 a1.6,1.6 0 1,0 3.2,0 a1.6,1.6 0 1,0 -3.2,0 M1038.7,475.9 m-1.6,0 a1.6,1.6 0 1,0 3.2,0 a1.6,1.6 0 1,0 -3.2,0 M1024.2,485.5 m-1.6,0 a1.6,1.6 0 1,0 3.2,0 a1.6,1.6 0 1,0 -3.2,0 M1119.9,630.4 m-1.6,0 a1.6,1.6 0 1,0 3.2,0 a1.6,1.6 0 1,0 -3.2,0 M1060.7,558.9 m-1.6,0 a1.6,1.6 0 1,0 3.2,0 a1.6,1.6 0 1,0 -3.2,0 M1086.4,593.0 m-1.6,0 a1.6,1.6 0 1,0 3.2,0 a1.6,1.6 0 1,0 -3.2,0 M1121.0,616.3 m-1.6,0 a1.6,1.6 0 1,0 3.2,0 a1.6,1.6 0 1,0 -3.2,0 M1060.4,552.0 m-1.6,0 a1.6,1.6 0 1,0 3.2,0 a1.6,1.6 0 1,0 -3.2,0 M1117.3,619.0 m-1.6,0 a1.6,1.6 0 1,0 3.2,0 a1.6,1.6 0 1,0 -3.2,0 M1111.5,622.8 m-1.6,0 a1.6,1.6 0 1,0 3.2,0 a1.6,1.6 0 1,0 -3.2,0 M1056.4,545.7 m-1.6,0 a1.6,1.6 0 1,0 3.2,0 a1.6,1.6 0 1,0 -3.2,0 M1109.1,622.3 m-1.6,0 a1.6,1.6 0 1,0 3.2,0 a1.6,1.6 0 1,0 -3.2,0 M1076.1,568.9 m-1.6,0 a1.6,1.6 0 1,0 3.2,0 a1.6,1.6 0 1,0 -3.2,0 M1081.8,577.5 m-1.6,0 a1.6,1.6 0 1,0 3.2,0 a1.6,1.6 0 1,0 -3.2,0 M1117.0,638.4 m-1.6,0 a1.6,1.6 0 1,0 3.2,0 a1.6,1.6 0 1,0 -3.2,0 M1058.9,522.7 m-1.6,0 a1.6,1.6 0 1,0 3.2,0 a1.6,1.6 0 1,0 -3.2,0 M1129.7,622.8 m-1.6,0 a1.6,1.6 0 1,0 3.2,0 a1.6,1.6 0 1,0 -3.2,0 M1093.4,572.0 m-1.6,0 a1.6,1.6 0 1,0 3.2,0 a1.6,1.6 0 1,0 -3.2,0 M1118.9,638.3 m-1.6,0 a1.6,1.6 0 1,0 3.2,0 a1.6,1.6 0 1,0 -3.2,0 M1116.1,609.3 m-1.6,0 a1.6,1.6 0 1,0 3.2,0 a1.6,1.6 0 1,0 -3.2,0 M1103.4,604.0 m-1.6,0 a1.6,1.6 0 1,0 3.2,0 a1.6,1.6 0 1,0 -3.2,0 M1070.1,563.3 m-1.6,0 a1.6,1.6 0 1,0 3.2,0 a1.6,1.6 0 1,0 -3.2,0 M1059.9,559.9 m-1.6,0 a1.6,1.6 0 1,0 3.2,0 a1.6,1.6 0 1,0 -3.2,0 M1093.0,598.5 m-1.6,0 a1.6,1.6 0 1,0 3.2,0 a1.6,1.6 0 1,0 -3.2,0 M1106.1,627.2 m-1.6,0 a1.6,1.6 0 1,0 3.2,0 a1.6,1.6 0 1,0 -3.2,0 M1126.0,629.4 m-1.6,0 a1.6,1.6 0 1,0 3.2,0 a1.6,1.6 0 1,0 -3.2,0 M1131.5,629.0 m-1.6,0 a1.6,1.6 0 1,0 3.2,0 a1.6,1.6 0 1,0 -3.2,0 M1123.5,630.4 m-1.6,0 a1.6,1.6 0 1,0 3.2,0 a1.6,1.6 0 1,0 -3.2,0 M1055.8,526.3 m-1.6,0 a1.6,1.6 0 1,0 3.2,0 a1.6,1.6 0 1,0 -3.2,0 M1059.9,550.4 m-1.6,0 a1.6,1.6 0 1,0 3.2,0 a1.6,1.6 0 1,0 -3.2,0 M1103.5,603.9 m-1.6,0 a1.6,1.6 0 1,0 3.2,0 a1.6,1.6 0 1,0 -3.2,0 M1091.5,569.8 m-1.6,0 a1.6,1.6 0 1,0 3.2,0 a1.6,1.6 0 1,0 -3.2,0 M1095.9,600.5 m-1.6,0 a1.6,1.6 0 1,0 3.2,0 a1.6,1.6 0 1,0 -3.2,0 M1077.1,552.3 m-1.6,0 a1.6,1.6 0 1,0 3.2,0 a1.6,1.6 0 1,0 -3.2,0 M1093.6,579.2 m-1.6,0 a1.6,1.6 0 1,0 3.2,0 a1.6,1.6 0 1,0 -3.2,0 M1072.3,572.5 m-1.6,0 a1.6,1.6 0 1,0 3.2,0 a1.6,1.6 0 1,0 -3.2,0 M1098.9,585.3 m-1.6,0 a1.6,1.6 0 1,0 3.2,0 a1.6,1.6 0 1,0 -3.2,0 M1069.3,543.8 m-1.6,0 a1.6,1.6 0 1,0 3.2,0 a1.6,1.6 0 1,0 -3.2,0 M1129.6,630.0 m-1.6,0 a1.6,1.6 0 1,0 3.2,0 a1.6,1.6 0 1,0 -3.2,0 M1106.4,629.2 m-1.6,0 a1.6,1.6 0 1,0 3.2,0 a1.6,1.6 0 1,0 -3.2,0 M1107.2,595.5 m-1.6,0 a1.6,1.6 0 1,0 3.2,0 a1.6,1.6 0 1,0 -3.2,0 M1049.6,536.8 m-1.6,0 a1.6,1.6 0 1,0 3.2,0 a1.6,1.6 0 1,0 -3.2,0 M1072.0,558.5 m-1.6,0 a1.6,1.6 0 1,0 3.2,0 a1.6,1.6 0 1,0 -3.2,0 " fill="none" stroke="#d8c4a8" stroke-width="1.2"/><path d="M1050.0,75.0 C1052.3,72.3 1073.9,77.7 1075.0,80.0 C1076.1,82.3 1067.3,106.0 1066.0,110.0 C1064.7,114.0 1056.4,136.0 1055.0,140.0 C1053.6,144.0 1046.7,166.0 1045.0,170.0 C1043.3,174.0 1032.0,198.0 1030.0,200.0 C1028.0,202.0 1015.0,202.7 1015.0,200.0 C1015.0,197.3 1028.3,165.3 1030.0,160.0 C1031.7,154.7 1038.7,125.7 1040.0,120.0 C1041.3,114.3 1047.7,77.7 1050.0,75.0Z" fill="#e0706a" stroke="#a32a2a" stroke-width="2"/><path d="M830.0,140.0 L832.0,100.0 C834.2,96.7 839.5,86.0 845.0,80.0 C850.5,74.0 856.7,68.5 865.0,64.0 C873.3,59.5 883.0,55.8 895.0,53.0 C907.0,50.2 924.5,47.8 937.0,47.0 C949.5,46.2 959.5,46.7 970.0,48.0 C980.5,49.3 991.3,51.7 1000.0,55.0 C1008.7,58.3 1016.0,63.2 1022.0,68.0 C1028.0,72.8 1032.5,79.0 1036.0,84.0 C1039.5,89.0 1041.8,95.7 1043.0,98.0 L1040.0,110.0 C1038.3,107.0 1034.0,97.3 1030.0,92.0 C1026.0,86.7 1021.8,82.0 1016.0,78.0 C1010.2,74.0 1003.0,70.7 995.0,68.0 C987.0,65.3 977.7,63.2 968.0,62.0 C958.3,60.8 948.3,60.3 937.0,61.0 C925.7,61.7 911.2,63.2 900.0,66.0 C888.8,68.8 878.3,73.2 870.0,78.0 C861.7,82.8 855.0,88.8 850.0,95.0 C845.0,101.2 842.3,107.5 840.0,115.0 C837.7,122.5 836.7,135.8 836.0,140.0Z" fill="#e27b77" stroke="#a5282a" stroke-width="2.2" stroke-linejoin="round"/><path d="M880.0,66.0 C884.2,64.7 895.5,60.0 905.0,58.0 C914.5,56.0 926.5,54.5 937.0,54.0 C947.5,53.5 958.3,53.8 968.0,55.0 C977.7,56.2 987.2,58.2 995.0,61.0 C1002.8,63.8 1011.7,70.2 1015.0,72.0" fill="none" stroke="#f6d0d4" stroke-width="4" stroke-linecap="round"/><path d="M862.0,78.0 C867.5,75.7 882.5,67.3 895.0,64.0 C907.5,60.7 923.7,58.8 937.0,58.0 C950.3,57.2 963.7,57.5 975.0,59.0 C986.3,60.5 996.2,63.2 1005.0,67.0 C1013.8,70.8 1024.2,79.5 1028.0,82.0" fill="none" stroke="#a5282a" stroke-width="1.6"/><path d="M937.0,69.0 C951.2,68.7 962.8,68.2 975.0,70.0 C987.2,71.8 1000.5,75.3 1010.0,80.0 C1019.5,84.7 1026.8,90.5 1032.0,98.0 C1037.2,105.5 1040.8,116.0 1041.0,125.0 C1041.2,134.0 1039.0,144.8 1033.0,152.0 C1027.0,159.2 1014.7,163.7 1005.0,168.0 C995.3,172.3 983.8,174.0 975.0,178.0 C966.2,182.0 958.2,185.8 952.0,192.0 C945.8,198.2 941.5,205.3 938.0,215.0 C934.5,224.7 932.7,235.8 931.0,250.0 C929.3,264.2 928.8,275.0 928.0,300.0 C927.2,325.0 925.7,370.0 926.0,400.0 C926.3,430.0 928.0,456.7 930.0,480.0 C932.0,503.3 934.3,524.7 938.0,540.0 C941.7,555.3 945.8,562.8 952.0,572.0 C958.2,581.2 966.2,588.7 975.0,595.0 C983.8,601.3 994.2,605.8 1005.0,610.0 C1015.8,614.2 1029.8,616.7 1040.0,620.0 C1050.2,623.3 1064.7,625.3 1066.0,630.0 C1067.3,634.7 1056.5,643.0 1048.0,648.0 C1039.5,653.0 1024.7,655.0 1015.0,660.0 C1005.3,665.0 998.3,671.3 990.0,678.0 C981.7,684.7 974.2,693.5 965.0,700.0 C955.8,706.5 945.8,712.7 935.0,717.0 C924.2,721.3 910.8,724.8 900.0,726.0 C889.2,727.2 879.2,726.3 870.0,724.0 C860.8,721.7 852.3,717.3 845.0,712.0 C837.7,706.7 831.8,700.7 826.0,692.0 C820.2,683.3 814.3,672.0 810.0,660.0 C805.7,648.0 802.7,634.2 800.0,620.0 C797.3,605.8 795.7,590.0 794.0,575.0 C792.3,560.0 790.7,550.8 790.0,530.0 C789.3,509.2 788.5,481.7 790.0,450.0 C791.5,418.3 795.7,375.0 799.0,340.0 C802.3,305.0 806.5,268.3 810.0,240.0 C813.5,211.7 816.5,190.3 820.0,170.0 C823.5,149.7 825.5,131.8 831.0,118.0 C836.5,104.2 843.2,94.7 853.0,87.0 C862.8,79.3 876.0,75.0 890.0,72.0 C904.0,69.0 922.8,69.3 937.0,69.0Z" fill="#b486c8"/><path d="M838.0,112.0 C841.3,103.7 846.3,95.3 855.0,90.0 C863.7,84.7 876.3,82.0 890.0,80.0 C903.7,78.0 922.0,78.0 937.0,78.0 C952.0,78.0 968.7,78.3 980.0,80.0 C991.3,81.7 998.7,83.8 1005.0,88.0 C1011.3,92.2 1015.3,98.0 1018.0,105.0 C1020.7,112.0 1021.8,122.2 1021.0,130.0 C1020.2,137.8 1017.3,146.5 1013.0,152.0 C1008.7,157.5 1003.0,160.3 995.0,163.0 C987.0,165.7 972.5,168.5 965.0,168.0 C957.5,167.5 955.0,162.7 950.0,160.0 C945.0,157.3 943.3,152.0 935.0,152.0 C926.7,152.0 911.7,157.0 900.0,160.0 C888.3,163.0 874.7,166.3 865.0,170.0 C855.3,173.7 846.8,182.0 842.0,182.0 C837.2,182.0 837.2,177.0 836.0,170.0 C834.8,163.0 834.7,149.7 835.0,140.0 C835.3,130.3 834.7,120.3 838.0,112.0Z" fill="#8c5197" stroke="#7a3f88" stroke-width="1.5"/><path d="M840.0,185.0 C841.7,180.7 859.2,175.3 870.0,172.0 C880.8,168.7 894.2,167.3 905.0,165.0 C915.8,162.7 927.2,158.0 935.0,158.0 C942.8,158.0 949.8,160.5 952.0,165.0 C954.2,169.5 950.8,178.3 948.0,185.0 C945.2,191.7 943.0,202.5 935.0,205.0 C927.0,207.5 912.5,201.2 900.0,200.0 C887.5,198.8 870.0,200.5 860.0,198.0 C850.0,195.5 838.3,189.3 840.0,185.0Z" fill="#bb8dcb"/><ellipse cx="871" cy="247" rx="55" ry="64" transform="rotate(-35 871 247)" fill="#b27ec4" stroke="#c384b5" stroke-width="6" opacity="0.9"/><ellipse cx="871" cy="247" rx="55" ry="64" transform="rotate(-35 871 247)" fill="none" stroke="#a04a9c" stroke-width="3"/><path d="M910.9,218.8 C911.6,219.5 912.4,220.1 913.1,220.9 C913.7,221.7 914.3,222.5 914.7,223.4 C915.1,224.3 915.3,225.3 915.6,226.3 C915.8,227.3 916.0,228.3 916.2,229.2 C916.5,230.2 916.7,231.1 917.1,232.0 C917.4,232.9 917.9,233.7 918.3,234.6 C918.7,235.5 919.3,236.3 919.6,237.2 C920.0,238.1 920.3,239.1 920.5,240.0 C920.7,240.9 920.7,241.9 920.7,242.8 C920.7,243.8 920.5,244.7 920.5,245.6 C920.4,246.5 920.4,247.4 920.5,248.3 C920.6,249.2 920.9,250.1 921.2,251.1 C921.4,252.0 921.8,253.0 922.1,253.9 C922.3,254.9 922.6,255.8 922.7,256.8 C922.8,257.7 922.7,258.7 922.6,259.5 C922.4,260.4 922.1,261.3 921.8,262.1 C921.6,263.0 921.2,263.8 921.0,264.6 C920.8,265.5 920.7,266.4 920.6,267.3 C920.5,268.2 920.6,269.2 920.5,270.1 C920.4,271.0 920.4,272.0 920.1,272.8 C919.9,273.7 919.5,274.5 919.0,275.2 C918.6,275.9 917.9,276.5 917.3,277.1 C916.6,277.7 915.9,278.2 915.3,278.8 C914.7,279.4 914.2,280.0 913.7,280.7 C913.2,281.4 912.9,282.1 912.5,282.9 C912.1,283.7 911.8,284.5 911.4,285.2 C910.9,285.9 910.4,286.6 909.8,287.2 C909.2,287.7 908.5,288.1 907.8,288.6 C907.0,289.0 906.2,289.2 905.5,289.6 C904.8,290.0 904.1,290.4 903.5,290.9 C902.8,291.5 902.3,292.1 901.8,292.7 C901.2,293.4 900.7,294.2 900.1,294.8 C899.5,295.4 898.9,296.1 898.2,296.5 C897.5,296.9 896.7,297.2 895.9,297.4 C895.0,297.6 894.1,297.6 893.2,297.7 C892.4,297.8 891.5,297.8 890.6,297.9 C889.8,298.0 889.0,298.2 888.2,298.5 C887.4,298.7 886.6,299.1 885.8,299.4 C885.0,299.7 884.2,299.9 883.3,300.0 C882.5,300.1 881.6,300.1 880.7,299.9 C879.8,299.7 878.8,299.3 878.0,299.0 C877.1,298.7 876.2,298.2 875.3,298.0 C874.4,297.7 873.6,297.5 872.7,297.4 C871.9,297.3 871.0,297.4 870.1,297.4 C869.3,297.4 868.4,297.5 867.5,297.4 C866.6,297.3 865.7,297.2 864.9,296.9 C864.0,296.6 863.1,296.2 862.3,295.7 C861.5,295.3 860.7,294.7 859.9,294.2 C859.1,293.8 858.2,293.3 857.4,293.0 C856.5,292.7 855.6,292.5 854.7,292.2 C853.8,292.0 852.9,291.8 852.0,291.5 C851.1,291.2 850.2,290.9 849.3,290.4 C848.5,289.9 847.8,289.2 847.1,288.5 C846.4,287.8 845.8,286.9 845.1,286.1 C844.5,285.3 843.9,284.5 843.3,283.7 C842.6,283.0 841.9,282.4 841.2,281.7 C840.4,281.1 839.6,280.6 838.9,279.9 C838.1,279.3 837.4,278.7 836.7,277.9 C836.1,277.2 835.5,276.3 835.1,275.5 C834.6,274.6 834.3,273.6 833.9,272.7 C833.5,271.8 833.2,270.8 832.8,269.9 C832.4,269.1 831.9,268.3 831.4,267.5 C830.8,266.7 830.1,266.0 829.5,265.2 C828.8,264.4 828.1,263.7 827.5,262.9 C827.0,262.1 826.4,261.2 826.0,260.3 C825.7,259.4 825.4,258.5 825.2,257.5 C825.0,256.6 824.9,255.6 824.7,254.7 C824.5,253.8 824.3,252.9 824.0,251.9 C823.7,251.0 823.3,250.1 822.9,249.2 C822.5,248.3 822.0,247.4 821.7,246.4 C821.3,245.5 821.0,244.5 821.0,243.6 C820.9,242.6 821.0,241.7 821.1,240.8 C821.2,239.8 821.6,239.0 821.8,238.1 C822.1,237.2 822.3,236.3 822.5,235.5 C822.6,234.6 822.7,233.7 822.7,232.8 C822.7,231.9 822.6,230.9 822.6,230.0 C822.5,229.1 822.5,228.1 822.6,227.3 C822.8,226.4 823.1,225.5 823.4,224.7 C823.7,223.9 824.3,223.2 824.7,222.5 C825.1,221.8 825.6,221.1 826.0,220.4 C826.4,219.6 826.6,218.8 826.8,218.0 C827.1,217.1 827.1,216.1 827.3,215.2 C827.4,214.3 827.5,213.3 827.7,212.5 C828.0,211.6 828.3,210.8 828.8,210.1 C829.3,209.4 829.9,208.8 830.5,208.2 C831.1,207.7 831.9,207.2 832.5,206.7 C833.2,206.1 833.8,205.6 834.3,205.0 C834.9,204.4 835.3,203.6 835.8,202.9 C836.3,202.3 836.8,201.5 837.3,200.8 C837.9,200.2 838.5,199.6 839.2,199.2 C839.9,198.8 840.8,198.5 841.6,198.3 C842.5,198.1 843.4,198.1 844.3,197.9 C845.2,197.8 846.0,197.7 846.8,197.5 C847.6,197.2 848.3,196.9 849.0,196.5 C849.7,196.1 850.4,195.5 851.1,195.1 C851.8,194.7 852.5,194.2 853.3,194.0 C854.1,193.7 855.0,193.6 855.8,193.5 C856.7,193.5 857.6,193.6 858.5,193.7 C859.3,193.7 860.2,193.8 861.1,193.8 C861.9,193.8 862.7,193.7 863.5,193.5 C864.4,193.3 865.2,192.9 866.0,192.7 C866.9,192.4 867.7,192.1 868.6,192.0 C869.5,192.0 870.4,192.0 871.2,192.1 C872.1,192.3 873.0,192.7 873.9,193.1 C874.8,193.5 875.7,194.0 876.5,194.4 C877.4,194.8 878.2,195.2 879.1,195.5 C880.0,195.7 880.8,195.9 881.7,196.1 C882.6,196.3 883.5,196.4 884.4,196.7 C885.3,197.0 886.2,197.3 887.0,197.8 C887.8,198.3 888.6,199.0 889.3,199.6 C890.0,200.3 890.7,201.1 891.4,201.8 C892.1,202.5 892.8,203.2 893.6,203.8 C894.3,204.4 895.1,204.8 895.9,205.3 C896.7,205.7 897.7,206.0 898.5,206.5 C899.4,206.9 900.2,207.3 901.0,207.9 C901.8,208.5 902.5,209.2 903.1,209.9 C903.8,210.6 904.3,211.5 904.9,212.3 C905.5,213.1 906.0,213.9 906.6,214.7 C907.2,215.4 907.9,216.1 908.6,216.8 C909.3,217.5 910.1,218.1 910.9,218.8Z" fill="#b583c6" stroke="#a0489a" stroke-width="2.4"/><path d="M822.0,330.0 C820.5,345.0 815.2,388.3 813.0,420.0 C810.8,451.7 809.0,491.7 809.0,520.0 C809.0,548.3 810.3,576.3 813.0,590.0 C815.7,603.7 821.8,603.7 825.0,602.0 C828.2,600.3 831.3,593.7 832.0,580.0 C832.7,566.3 829.3,546.7 829.0,520.0 C828.7,493.3 828.8,450.0 830.0,420.0 C831.2,390.0 835.0,353.3 836.0,340.0" fill="#b786c0" stroke="#a66aa2" stroke-width="2.5"/><path d="M843.0,390.0 C842.2,403.3 839.2,445.0 838.0,470.0 C836.8,495.0 835.7,520.0 836.0,540.0 C836.3,560.0 839.3,581.7 840.0,590.0" fill="none" stroke="#b27aae" stroke-width="4"/><path d="M925.0,330.0 C923.2,334.8 920.0,347.3 914.5,359.0 C909.0,370.7 895.8,393.2 892.0,400.0 M928.0,420.0 C925.5,422.8 920.0,429.0 913.0,436.5 C906.0,444.0 890.5,460.2 886.0,465.0 M930.0,470.0 C924.9,476.6 911.7,494.3 899.5,509.5 C887.3,524.7 864.1,552.4 857.0,561.0 M934.0,500.0 C929.8,510.0 919.3,538.0 909.0,560.0 C898.7,582.0 878.2,620.0 872.0,632.0 M945.0,560.0 C944.9,567.6 946.7,588.3 944.5,605.5 C942.3,622.7 934.1,653.4 932.0,663.0 M965.0,590.0 C966.3,592.2 972.3,596.7 973.0,603.0 C973.7,609.3 969.7,623.8 969.0,628.0 M990.0,605.0 C991.8,606.9 999.3,610.7 1001.0,616.5 C1002.7,622.3 1000.2,636.1 1000.0,640.0 M920.0,300.0 C917.7,302.3 912.7,307.3 906.0,314.0 C899.3,320.7 884.3,335.7 880.0,340.0 " fill="none" stroke="#a56a99" stroke-width="6"/><path d="M925.0,330.0 C923.2,334.8 920.0,347.3 914.5,359.0 C909.0,370.7 895.8,393.2 892.0,400.0 M928.0,420.0 C925.5,422.8 920.0,429.0 913.0,436.5 C906.0,444.0 890.5,460.2 886.0,465.0 M930.0,470.0 C924.9,476.6 911.7,494.3 899.5,509.5 C887.3,524.7 864.1,552.4 857.0,561.0 M934.0,500.0 C929.8,510.0 919.3,538.0 909.0,560.0 C898.7,582.0 878.2,620.0 872.0,632.0 M945.0,560.0 C944.9,567.6 946.7,588.3 944.5,605.5 C942.3,622.7 934.1,653.4 932.0,663.0 M965.0,590.0 C966.3,592.2 972.3,596.7 973.0,603.0 C973.7,609.3 969.7,623.8 969.0,628.0 M990.0,605.0 C991.8,606.9 999.3,610.7 1001.0,616.5 C1002.7,622.3 1000.2,636.1 1000.0,640.0 M920.0,300.0 C917.7,302.3 912.7,307.3 906.0,314.0 C899.3,320.7 884.3,335.7 880.0,340.0 " fill="none" stroke="#c58fbd" stroke-width="2.5"/><ellipse cx="855" cy="352" rx="37" ry="31" fill="#a661b3" stroke="#9a3f9c" stroke-width="4"/><ellipse cx="855" cy="352" rx="30" ry="24" fill="none" stroke="#9a3f9c" stroke-width="1.6"/><ellipse cx="892" cy="400" rx="24" ry="22" fill="#b484c6" stroke="#9a3f9c" stroke-width="4"/><ellipse cx="892" cy="400" rx="17" ry="15" fill="none" stroke="#9a3f9c" stroke-width="1.6"/><ellipse cx="886" cy="465" rx="23" ry="25" fill="#b484c6" stroke="#9a3f9c" stroke-width="4"/><ellipse cx="886" cy="465" rx="16" ry="18" fill="none" stroke="#9a3f9c" stroke-width="1.6"/><ellipse cx="857" cy="561" rx="25" ry="26" fill="#b484c6" stroke="#9a3f9c" stroke-width="4"/><ellipse cx="857" cy="561" rx="18" ry="19" fill="none" stroke="#9a3f9c" stroke-width="1.6"/><ellipse cx="872" cy="632" rx="24" ry="27" fill="#b484c6" stroke="#9a3f9c" stroke-width="4"/><ellipse cx="872" cy="632" rx="17" ry="20" fill="none" stroke="#9a3f9c" stroke-width="1.6"/><ellipse cx="932" cy="663" rx="23" ry="28" fill="#b484c6" stroke="#9a3f9c" stroke-width="4"/><ellipse cx="932" cy="663" rx="16" ry="21" fill="none" stroke="#9a3f9c" stroke-width="1.6"/><ellipse cx="969" cy="628" rx="17" ry="24" fill="#b484c6" stroke="#9a3f9c" stroke-width="4"/><ellipse cx="969" cy="628" rx="10" ry="17" fill="none" stroke="#9a3f9c" stroke-width="1.6"/><ellipse cx="1005" cy="643" rx="12" ry="12" fill="#b484c6" stroke="#9a3f9c" stroke-width="4"/><ellipse cx="1005" cy="643" rx="5" ry="5" fill="none" stroke="#9a3f9c" stroke-width="1.6"/><path d="M945,702 C948,672 980,655 1005,660 L1010,690 C990,700 965,706 945,708Z" fill="#9f5cb1"/><path d="M937.0,69.0 C951.2,68.7 962.8,68.2 975.0,70.0 C987.2,71.8 1000.5,75.3 1010.0,80.0 C1019.5,84.7 1026.8,90.5 1032.0,98.0 C1037.2,105.5 1040.8,116.0 1041.0,125.0 C1041.2,134.0 1039.0,144.8 1033.0,152.0 C1027.0,159.2 1014.7,163.7 1005.0,168.0 C995.3,172.3 983.8,174.0 975.0,178.0 C966.2,182.0 958.2,185.8 952.0,192.0 C945.8,198.2 941.5,205.3 938.0,215.0 C934.5,224.7 932.7,235.8 931.0,250.0 C929.3,264.2 928.8,275.0 928.0,300.0 C927.2,325.0 925.7,370.0 926.0,400.0 C926.3,430.0 928.0,456.7 930.0,480.0 C932.0,503.3 934.3,524.7 938.0,540.0 C941.7,555.3 945.8,562.8 952.0,572.0 C958.2,581.2 966.2,588.7 975.0,595.0 C983.8,601.3 994.2,605.8 1005.0,610.0 C1015.8,614.2 1029.8,616.7 1040.0,620.0 C1050.2,623.3 1064.7,625.3 1066.0,630.0 C1067.3,634.7 1056.5,643.0 1048.0,648.0 C1039.5,653.0 1024.7,655.0 1015.0,660.0 C1005.3,665.0 998.3,671.3 990.0,678.0 C981.7,684.7 974.2,693.5 965.0,700.0 C955.8,706.5 945.8,712.7 935.0,717.0 C924.2,721.3 910.8,724.8 900.0,726.0 C889.2,727.2 879.2,726.3 870.0,724.0 C860.8,721.7 852.3,717.3 845.0,712.0 C837.7,706.7 831.8,700.7 826.0,692.0 C820.2,683.3 814.3,672.0 810.0,660.0 C805.7,648.0 802.7,634.2 800.0,620.0 C797.3,605.8 795.7,590.0 794.0,575.0 C792.3,560.0 790.7,550.8 790.0,530.0 C789.3,509.2 788.5,481.7 790.0,450.0 C791.5,418.3 795.7,375.0 799.0,340.0 C802.3,305.0 806.5,268.3 810.0,240.0 C813.5,211.7 816.5,190.3 820.0,170.0 C823.5,149.7 825.5,131.8 831.0,118.0 C836.5,104.2 843.2,94.7 853.0,87.0 C862.8,79.3 876.0,75.0 890.0,72.0 C904.0,69.0 922.8,69.3 937.0,69.0Z" fill="none" stroke="#5f2d85" stroke-width="15" stroke-linejoin="round"/><path d="M1047.0,162.0 C1046.3,167.8 1042.2,182.0 1038.0,195.0 C1033.8,208.0 1027.3,225.0 1022.0,240.0 C1016.7,255.0 1010.3,270.0 1006.0,285.0 C1001.7,300.0 998.3,314.2 996.0,330.0 C993.7,345.8 992.8,365.0 992.0,380.0 C991.2,395.0 990.7,406.7 991.0,420.0 C991.3,433.3 992.7,446.7 994.0,460.0 C995.3,473.3 996.0,486.7 999.0,500.0 C1002.0,513.3 1007.5,530.7 1012.0,540.0 C1016.5,549.3 1020.7,551.2 1026.0,556.0 C1031.3,560.8 1038.7,564.3 1044.0,569.0 C1049.3,573.7 1054.3,578.8 1058.0,584.0 C1061.7,589.2 1069.0,597.8 1066.0,600.0 C1063.0,602.2 1048.2,598.8 1040.0,597.0 C1031.8,595.2 1025.3,592.5 1017.0,589.0 C1008.7,585.5 997.5,581.3 990.0,576.0 C982.5,570.7 976.7,564.7 972.0,557.0 C967.3,549.3 965.0,540.3 962.0,530.0 C959.0,519.7 956.0,507.7 954.0,495.0 C952.0,482.3 951.5,475.3 950.0,454.0 C948.5,432.7 945.5,396.0 945.0,367.0 C944.5,338.0 945.7,304.5 947.0,280.0 C948.3,255.5 950.5,233.0 953.0,220.0 C955.5,207.0 957.2,207.2 962.0,202.0 C966.8,196.8 972.8,193.5 982.0,189.0 C991.2,184.5 1007.0,179.8 1017.0,175.0 C1027.0,170.2 1037.0,162.2 1042.0,160.0 C1047.0,157.8 1047.7,156.2 1047.0,162.0Z" fill="#b3c6e6" opacity="0.9"/><path d="M1015.0,185.0 C1011.2,188.8 997.8,197.2 992.0,208.0 C986.2,218.8 983.3,234.7 980.0,250.0 C976.7,265.3 974.0,283.3 972.0,300.0 C970.0,316.7 968.8,333.3 968.0,350.0 C967.2,366.7 966.8,383.3 967.0,400.0 C967.2,416.7 968.0,435.0 969.0,450.0 C970.0,465.0 972.3,483.3 973.0,490.0 L985.0,490.0 C985.0,483.3 984.8,465.0 985.0,450.0 C985.2,435.0 985.5,416.7 986.0,400.0 C986.5,383.3 986.7,366.7 988.0,350.0 C989.3,333.3 990.7,316.7 994.0,300.0 C997.3,283.3 1002.3,266.3 1008.0,250.0 C1013.7,233.7 1022.7,215.0 1028.0,202.0 C1033.3,189.0 1038.0,177.0 1040.0,172.0Z" fill="#9a82b6" stroke="#6d4c8e" stroke-width="2"/><path d="M958.0,215.0 C960.5,209.3 966.7,207.2 972.0,206.0 C977.3,204.8 986.7,205.3 990.0,208.0 C993.3,210.7 993.3,216.7 992.0,222.0 C990.7,227.3 986.3,235.0 982.0,240.0 C977.7,245.0 970.2,252.0 966.0,252.0 C961.8,252.0 958.3,246.2 957.0,240.0 C955.7,233.8 955.5,220.7 958.0,215.0Z" fill="#a9c1b0" stroke="#5d7d66" stroke-width="2"/><path d="M957,262 L984,258 L977,276 L960,272Z" fill="#8fb09a" stroke="#5d7d66" stroke-width="1.5"/><ellipse cx="962" cy="306" rx="9.5" ry="25" fill="#a9b9e3" stroke="#7a4f98" stroke-width="3"/><path d="M958.0,345.0 C959.7,331.7 963.7,337.5 966.0,340.0 C968.3,342.5 971.2,346.7 972.0,360.0 C972.8,373.3 971.3,400.0 971.0,420.0 C970.7,440.0 969.5,461.7 970.0,480.0 C970.5,498.3 971.5,516.7 974.0,530.0 C976.5,543.3 986.0,557.0 985.0,560.0 C984.0,563.0 972.2,558.0 968.0,548.0 C963.8,538.0 962.0,521.3 960.0,500.0 C958.0,478.7 956.3,445.8 956.0,420.0 C955.7,394.2 956.3,358.3 958.0,345.0Z" fill="#c2d3ec" stroke="#8c9ab0" stroke-width="1.8"/><circle cx="979" cy="492" r="7" fill="#8f72b0" stroke="#6b4a8c" stroke-width="2.5"/><path d="M962.0,520.0 C964.2,525.8 967.8,545.3 975.0,555.0 C982.2,564.7 993.3,571.8 1005.0,578.0 C1016.7,584.2 1039.2,592.5 1045.0,592.0 C1050.8,591.5 1045.8,582.0 1040.0,575.0 C1034.2,568.0 1017.5,559.2 1010.0,550.0 C1002.5,540.8 998.3,528.3 995.0,520.0 C991.7,511.7 990.8,503.3 990.0,500.0" fill="#c0cbe8" opacity="0.8"/><path d="M1047.0,162.0 C1046.3,167.8 1042.2,182.0 1038.0,195.0 C1033.8,208.0 1027.3,225.0 1022.0,240.0 C1016.7,255.0 1010.3,270.0 1006.0,285.0 C1001.7,300.0 998.3,314.2 996.0,330.0 C993.7,345.8 992.8,365.0 992.0,380.0 C991.2,395.0 990.7,406.7 991.0,420.0 C991.3,433.3 992.7,446.7 994.0,460.0 C995.3,473.3 996.0,486.7 999.0,500.0 C1002.0,513.3 1007.5,530.7 1012.0,540.0 C1016.5,549.3 1020.7,551.2 1026.0,556.0 C1031.3,560.8 1038.7,564.3 1044.0,569.0 C1049.3,573.7 1054.3,578.8 1058.0,584.0 C1061.7,589.2 1069.0,597.8 1066.0,600.0 C1063.0,602.2 1048.2,598.8 1040.0,597.0 C1031.8,595.2 1025.3,592.5 1017.0,589.0 C1008.7,585.5 997.5,581.3 990.0,576.0 C982.5,570.7 976.7,564.7 972.0,557.0 C967.3,549.3 965.0,540.3 962.0,530.0 C959.0,519.7 956.0,507.7 954.0,495.0 C952.0,482.3 951.5,475.3 950.0,454.0 C948.5,432.7 945.5,396.0 945.0,367.0 C944.5,338.0 945.7,304.5 947.0,280.0 C948.3,255.5 950.5,233.0 953.0,220.0 C955.5,207.0 957.2,207.2 962.0,202.0 C966.8,196.8 972.8,193.5 982.0,189.0 C991.2,184.5 1007.0,179.8 1017.0,175.0 C1027.0,170.2 1037.0,162.2 1042.0,160.0 C1047.0,157.8 1047.7,156.2 1047.0,162.0Z" fill="none" stroke="#3b7fd4" stroke-width="15" stroke-linejoin="round"/><path d="M950.0,700.0 C956.7,692.5 973.3,685.3 985.0,680.0 C996.7,674.7 1009.2,670.0 1020.0,668.0 C1030.8,666.0 1040.8,666.7 1050.0,668.0 C1059.2,669.3 1071.7,670.7 1075.0,676.0 C1078.3,681.3 1077.5,693.5 1070.0,700.0 C1062.5,706.5 1043.3,709.2 1030.0,715.0 C1016.7,720.8 1001.7,730.0 990.0,735.0 C978.3,740.0 967.5,746.7 960.0,745.0 C952.5,743.3 946.7,732.5 945.0,725.0 C943.3,717.5 943.3,707.5 950.0,700.0Z" fill="#d98ea2" stroke="#b0445f" stroke-width="1.5"/><path d="M830.0,705.0 C834.2,703.3 857.5,725.0 870.0,730.0 C882.5,735.0 892.5,735.3 905.0,735.0 C917.5,734.7 935.8,726.3 945.0,728.0 C954.2,729.7 962.5,741.7 960.0,745.0 C957.5,748.3 939.2,745.5 930.0,748.0 C920.8,750.5 910.3,753.0 905.0,760.0 C899.7,767.0 903.8,788.3 898.0,790.0 C892.2,791.7 878.8,778.3 870.0,770.0 C861.2,761.7 851.7,750.8 845.0,740.0 C838.3,729.2 825.8,706.7 830.0,705.0Z" fill="#f6e0b6"/><path d="M818.0,690.0 C821.7,695.8 831.3,713.3 840.0,725.0 C848.7,736.7 860.3,748.8 870.0,760.0 C879.7,771.2 893.3,786.7 898.0,792.0" fill="none" stroke="#e2b86a" stroke-width="2.5"/><path d="M906.0,768.0 C907.0,763.3 907.3,759.3 913.0,756.0 C918.7,752.7 928.0,752.7 940.0,748.0 C952.0,743.3 973.5,734.3 985.0,728.0 C996.5,721.7 999.0,718.0 1009.0,710.0 C1019.0,702.0 1033.0,687.7 1045.0,680.0 C1057.0,672.3 1070.3,667.8 1081.0,664.0 C1091.7,660.2 1099.2,657.7 1109.0,657.0 C1118.8,656.3 1131.3,657.3 1140.0,660.0 C1148.7,662.7 1156.3,667.2 1161.0,673.0 C1165.7,678.8 1166.5,686.8 1168.0,695.0 C1169.5,703.2 1171.0,707.8 1170.0,722.0 C1169.0,736.2 1167.5,762.7 1162.0,780.0 C1156.5,797.3 1145.3,814.3 1137.0,826.0 C1128.7,837.7 1126.2,844.2 1112.0,850.0 C1097.8,855.8 1069.7,860.0 1052.0,861.0 C1034.3,862.0 1021.3,860.5 1006.0,856.0 C990.7,851.5 973.8,842.8 960.0,834.0 C946.2,825.2 931.8,811.3 923.0,803.0 C914.2,794.7 909.8,789.8 907.0,784.0 C904.2,778.2 905.0,772.7 906.0,768.0Z" fill="#c54c68"/><defs><clipPath id="redclip"><path d="M906.0,768.0 C907.0,763.3 907.3,759.3 913.0,756.0 C918.7,752.7 928.0,752.7 940.0,748.0 C952.0,743.3 973.5,734.3 985.0,728.0 C996.5,721.7 999.0,718.0 1009.0,710.0 C1019.0,702.0 1033.0,687.7 1045.0,680.0 C1057.0,672.3 1070.3,667.8 1081.0,664.0 C1091.7,660.2 1099.2,657.7 1109.0,657.0 C1118.8,656.3 1131.3,657.3 1140.0,660.0 C1148.7,662.7 1156.3,667.2 1161.0,673.0 C1165.7,678.8 1166.5,686.8 1168.0,695.0 C1169.5,703.2 1171.0,707.8 1170.0,722.0 C1169.0,736.2 1167.5,762.7 1162.0,780.0 C1156.5,797.3 1145.3,814.3 1137.0,826.0 C1128.7,837.7 1126.2,844.2 1112.0,850.0 C1097.8,855.8 1069.7,860.0 1052.0,861.0 C1034.3,862.0 1021.3,860.5 1006.0,856.0 C990.7,851.5 973.8,842.8 960.0,834.0 C946.2,825.2 931.8,811.3 923.0,803.0 C914.2,794.7 909.8,789.8 907.0,784.0 C904.2,778.2 905.0,772.7 906.0,768.0Z"/></clipPath></defs><g clip-path="url(#redclip)"><path d="M905.0,760.0 C910.0,752.5 928.3,748.3 940.0,745.0 C951.7,741.7 965.0,735.8 975.0,740.0 C985.0,744.2 995.0,758.3 1000.0,770.0 C1005.0,781.7 1006.7,797.5 1005.0,810.0 C1003.3,822.5 997.5,839.2 990.0,845.0 C982.5,850.8 970.0,850.0 960.0,845.0 C950.0,840.0 938.3,824.2 930.0,815.0 C921.7,805.8 914.2,799.2 910.0,790.0 C905.8,780.8 900.0,767.5 905.0,760.0Z" fill="#cd6279" stroke="#a8284a" stroke-width="1.8"/><path d="M942.0,768.0 C944.5,766.2 952.8,772.3 960.0,774.0 C967.2,775.7 980.0,775.0 985.0,778.0 C990.0,781.0 991.7,787.5 990.0,792.0 C988.3,796.5 979.2,801.2 975.0,805.0 C970.8,808.8 968.3,815.8 965.0,815.0 C961.7,814.2 958.3,805.0 955.0,800.0 C951.7,795.0 947.2,790.3 945.0,785.0 C942.8,779.7 939.5,769.8 942.0,768.0Z" fill="#d8788c" stroke="#b03050" stroke-width="1.5"/><path d="M965,812 L948,781 M965,812 L955,779 M965,812 L962,777 M965,812 L969,777 M965,812 L976,779 M965,812 L983,781 " stroke="#b03050" stroke-width="1" fill="none"/><path d="M965.0,812.0 C964.7,815.0 963.5,823.7 963.0,830.0 C962.5,836.3 962.2,846.7 962.0,850.0" fill="none" stroke="#b03050" stroke-width="1.8"/><path d="M1012.0,742.0 C1012.8,743.2 1016.5,747.0 1016.9,749.5 C1017.3,752.0 1014.6,754.5 1014.4,757.0 C1014.2,759.5 1014.6,762.0 1015.7,764.5 C1016.7,767.0 1020.1,769.5 1020.4,772.0 C1020.8,774.5 1018.5,777.0 1017.8,779.5 C1017.0,782.0 1015.3,784.5 1015.9,787.0 C1016.5,789.5 1020.4,792.0 1021.5,794.5 C1022.7,797.0 1022.9,799.5 1022.8,802.0 C1022.7,804.5 1020.4,807.0 1021.0,809.5 C1021.6,812.0 1024.9,814.5 1026.4,817.0 C1028.0,819.5 1030.2,822.0 1030.3,824.5 C1030.3,827.0 1027.2,829.5 1026.9,832.0 C1026.5,834.5 1027.3,837.0 1028.2,839.5 C1029.1,842.0 1032.2,844.5 1032.4,847.0 C1032.7,849.5 1030.0,853.2 1029.6,854.5" fill="none" stroke="#a8284a" stroke-width="2"/><path d="M1000.0,735.0 C1002.5,736.7 1010.0,739.2 1015.0,745.0 C1020.0,750.8 1026.2,759.2 1030.0,770.0 C1033.8,780.8 1036.3,795.0 1038.0,810.0 C1039.7,825.0 1039.7,851.7 1040.0,860.0" fill="none" stroke="#a8284a" stroke-width="2"/><path d="M1052.0,700.0 C1057.5,690.3 1073.7,686.0 1085.0,682.0 C1096.3,678.0 1109.5,673.8 1120.0,676.0 C1130.5,678.2 1142.0,684.3 1148.0,695.0 C1154.0,705.7 1155.7,723.3 1156.0,740.0 C1156.3,756.7 1155.3,780.0 1150.0,795.0 C1144.7,810.0 1133.7,822.2 1124.0,830.0 C1114.3,837.8 1101.3,842.3 1092.0,842.0 C1082.7,841.7 1073.7,838.3 1068.0,828.0 C1062.3,817.7 1060.7,794.7 1058.0,780.0 C1055.3,765.3 1053.0,753.3 1052.0,740.0 C1051.0,726.7 1046.5,709.7 1052.0,700.0Z" fill="#c9566f" stroke="#a8284a" stroke-width="2"/><path d="M1070.0,698.0 C1070.7,705.0 1073.8,724.7 1074.0,740.0 C1074.2,755.3 1070.7,777.8 1071.0,790.0 C1071.3,802.2 1075.2,809.2 1076.0,813.0 M1079.0,696.0 C1079.7,703.3 1082.8,724.3 1083.0,740.0 C1083.2,755.7 1079.7,777.3 1080.0,790.0 C1080.3,802.7 1084.2,811.7 1085.0,816.0 M1088.0,694.0 C1088.7,701.7 1091.8,724.0 1092.0,740.0 C1092.2,756.0 1088.7,776.8 1089.0,790.0 C1089.3,803.2 1093.2,814.2 1094.0,819.0 M1097.0,692.0 C1097.7,700.0 1100.8,723.7 1101.0,740.0 C1101.2,756.3 1097.7,776.3 1098.0,790.0 C1098.3,803.7 1102.2,816.7 1103.0,822.0 M1106.0,690.0 C1106.7,698.3 1109.8,723.3 1110.0,740.0 C1110.2,756.7 1106.7,775.8 1107.0,790.0 C1107.3,804.2 1111.2,819.2 1112.0,825.0 M1115.0,692.0 C1115.7,700.0 1118.8,723.7 1119.0,740.0 C1119.2,756.3 1115.7,776.3 1116.0,790.0 C1116.3,803.7 1120.2,816.7 1121.0,822.0 M1124.0,694.0 C1124.7,701.7 1127.8,724.0 1128.0,740.0 C1128.2,756.0 1124.7,776.8 1125.0,790.0 C1125.3,803.2 1129.2,814.2 1130.0,819.0 M1133.0,696.0 C1133.7,703.3 1136.8,724.3 1137.0,740.0 C1137.2,755.7 1133.7,777.3 1134.0,790.0 C1134.3,802.7 1138.2,811.7 1139.0,816.0 M1142.0,698.0 C1142.7,705.0 1145.8,724.7 1146.0,740.0 C1146.2,755.3 1142.7,777.8 1143.0,790.0 C1143.3,802.2 1147.2,809.2 1148.0,813.0 " fill="none" stroke="#b4385a" stroke-width="1" opacity="0.7"/><path d="M1078.0,690.0 C1079.7,698.3 1087.0,721.7 1088.0,740.0 C1089.0,758.3 1082.3,784.7 1084.0,800.0 C1085.7,815.3 1092.3,826.0 1098.0,832.0 C1103.7,838.0 1115.7,839.7 1118.0,836.0 C1120.3,832.3 1113.0,814.3 1112.0,810.0" fill="none" stroke="#a8284a" stroke-width="2"/><path d="M1108.0,688.0 C1110.0,696.7 1119.0,721.3 1120.0,740.0 C1121.0,758.7 1113.0,785.7 1114.0,800.0 C1115.0,814.3 1124.0,821.7 1126.0,826.0" fill="none" stroke="#a8284a" stroke-width="2"/></g><path d="M906.0,768.0 C907.0,763.3 907.3,759.3 913.0,756.0 C918.7,752.7 928.0,752.7 940.0,748.0 C952.0,743.3 973.5,734.3 985.0,728.0 C996.5,721.7 999.0,718.0 1009.0,710.0 C1019.0,702.0 1033.0,687.7 1045.0,680.0 C1057.0,672.3 1070.3,667.8 1081.0,664.0 C1091.7,660.2 1099.2,657.7 1109.0,657.0 C1118.8,656.3 1131.3,657.3 1140.0,660.0 C1148.7,662.7 1156.3,667.2 1161.0,673.0 C1165.7,678.8 1166.5,686.8 1168.0,695.0 C1169.5,703.2 1171.0,707.8 1170.0,722.0 C1169.0,736.2 1167.5,762.7 1162.0,780.0 C1156.5,797.3 1145.3,814.3 1137.0,826.0 C1128.7,837.7 1126.2,844.2 1112.0,850.0 C1097.8,855.8 1069.7,860.0 1052.0,861.0 C1034.3,862.0 1021.3,860.5 1006.0,856.0 C990.7,851.5 973.8,842.8 960.0,834.0 C946.2,825.2 931.8,811.3 923.0,803.0 C914.2,794.7 909.8,789.8 907.0,784.0 C904.2,778.2 905.0,772.7 906.0,768.0Z" fill="none" stroke="#a52449" stroke-width="11" stroke-linejoin="round"/></g>

<!-- KIDNEY FIGURE placeholder -->
<defs><filter id="kblur" x="-20%" y="-20%" width="140%" height="140%"><feGaussianBlur stdDeviation="10"/></filter><filter id="kb3" x="-20%" y="-20%" width="140%" height="140%"><feGaussianBlur stdDeviation="3"/></filter><mask id="kmask" maskUnits="userSpaceOnUse" x="1250" y="480" width="620" height="530"><path d="M1402.0,554.0 C1421.8,550.7 1453.7,550.0 1480.0,549.0 C1506.3,548.0 1533.3,548.0 1560.0,548.0 C1586.7,548.0 1612.0,548.0 1640.0,549.0 C1668.0,550.0 1706.5,550.7 1728.0,554.0 C1749.5,557.3 1757.8,559.7 1769.0,569.0 C1780.2,578.3 1788.7,594.8 1795.0,610.0 C1801.3,625.2 1804.7,641.7 1807.0,660.0 C1809.3,678.3 1809.3,698.3 1809.0,720.0 C1808.7,741.7 1809.0,770.0 1805.0,790.0 C1801.0,810.0 1793.3,827.5 1785.0,840.0 C1776.7,852.5 1768.2,855.8 1755.0,865.0 C1741.8,874.2 1722.7,885.2 1706.0,895.0 C1689.3,904.8 1672.7,916.5 1655.0,924.0 C1637.3,931.5 1615.7,936.7 1600.0,940.0 C1584.3,943.3 1574.3,944.0 1561.0,944.0 C1547.7,944.0 1536.3,942.3 1520.0,940.0 C1503.7,937.7 1479.7,936.3 1463.0,930.0 C1446.3,923.7 1433.7,912.7 1420.0,902.0 C1406.3,891.3 1392.3,879.7 1381.0,866.0 C1369.7,852.3 1360.8,835.2 1352.0,820.0 C1343.2,804.8 1333.7,791.0 1328.0,775.0 C1322.3,759.0 1319.0,741.5 1318.0,724.0 C1317.0,706.5 1319.5,687.0 1322.0,670.0 C1324.5,653.0 1326.5,638.8 1333.0,622.0 C1339.5,605.2 1349.5,580.3 1361.0,569.0 C1372.5,557.7 1382.2,557.3 1402.0,554.0Z" fill="#fff" filter="url(#kblur)"/></mask><radialGradient id="krim" gradientUnits="userSpaceOnUse" cx="1565" cy="740" r="255" gradientTransform="translate(1565 740) scale(1 0.86) translate(-1565 -740)"><stop offset="0.66" stop-color="#e9a4ac" stop-opacity="0"/><stop offset="0.9" stop-color="#e8a0aa" stop-opacity="0.8"/><stop offset="1" stop-color="#eaa6ae" stop-opacity="0.7"/></radialGradient></defs><g mask="url(#kmask)"><rect x="1290" y="510" width="540" height="460" fill="#f1c8b8"/><rect x="1290" y="510" width="540" height="460" fill="url(#krim)"/><ellipse cx="1335" cy="715" rx="30" ry="80" fill="#f2cfc0" filter="url(#kblur)"/><ellipse cx="1800" cy="700" rx="30" ry="90" fill="#f4dccb" filter="url(#kblur)"/><ellipse cx="1720" cy="590" rx="70" ry="40" fill="#f1cfc4" filter="url(#kblur)"/><path d="M1330.0,560.0 C1341.7,545.0 1375.0,544.2 1400.0,540.0 C1425.0,535.8 1467.0,532.8 1480.0,535.0 C1493.0,537.2 1484.7,546.3 1478.0,553.0 C1471.3,559.7 1453.0,567.2 1440.0,575.0 C1427.0,582.8 1413.3,592.2 1400.0,600.0 C1386.7,607.8 1371.7,617.0 1360.0,622.0 C1348.3,627.0 1335.0,640.3 1330.0,630.0 C1325.0,619.7 1318.3,575.0 1330.0,560.0Z" fill="#e9a5ae" filter="url(#kb3)"/><path d="M1745.0,585.0 C1750.0,575.0 1778.8,600.8 1790.0,620.0 C1801.2,639.2 1809.0,671.7 1812.0,700.0 C1815.0,728.3 1814.2,767.5 1808.0,790.0 C1801.8,812.5 1782.2,840.0 1775.0,835.0 C1767.8,830.0 1767.5,785.8 1765.0,760.0 C1762.5,734.2 1763.3,709.2 1760.0,680.0 C1756.7,650.8 1740.0,595.0 1745.0,585.0Z" fill="#f4dccb" filter="url(#kb3)"/><path d="M1500,535 L1645,535 L1640,690 L1625,760 L1625,950 L1500,950 L1500,760 L1495,690Z" fill="#eaa393" opacity="0.9"/><path d="M1585.0,545.0 C1584.5,554.2 1583.3,580.8 1582.0,600.0 C1580.7,619.2 1577.8,650.0 1577.0,660.0 M1591.0,545.0 C1590.5,554.2 1589.3,580.8 1588.0,600.0 C1586.7,619.2 1583.8,650.0 1583.0,660.0 M1597.0,545.0 C1596.5,554.2 1595.3,580.8 1594.0,600.0 C1592.7,619.2 1589.8,650.0 1589.0,660.0 M1603.0,545.0 C1602.5,554.2 1601.3,580.8 1600.0,600.0 C1598.7,619.2 1595.8,650.0 1595.0,660.0 M1609.0,545.0 C1608.5,554.2 1607.3,580.8 1606.0,600.0 C1604.7,619.2 1601.8,650.0 1601.0,660.0 M1615.0,545.0 C1614.5,554.2 1613.3,580.8 1612.0,600.0 C1610.7,619.2 1607.8,650.0 1607.0,660.0 M1621.0,545.0 C1620.5,554.2 1619.3,580.8 1618.0,600.0 C1616.7,619.2 1613.8,650.0 1613.0,660.0 M1627.0,545.0 C1626.5,554.2 1625.3,580.8 1624.0,600.0 C1622.7,619.2 1619.8,650.0 1619.0,660.0 M1633.0,545.0 C1632.5,554.2 1631.3,580.8 1630.0,600.0 C1628.7,619.2 1625.8,650.0 1625.0,660.0 " fill="none" stroke="#f6d2c4" stroke-width="1.4" opacity="0.8"/><path d="M1410.0,790.0 C1418.3,774.2 1455.0,776.7 1470.0,785.0 C1485.0,793.3 1495.0,812.5 1500.0,840.0 C1505.0,867.5 1508.3,931.7 1500.0,950.0 C1491.7,968.3 1463.3,961.7 1450.0,950.0 C1436.7,938.3 1426.7,906.7 1420.0,880.0 C1413.3,853.3 1401.7,805.8 1410.0,790.0Z" fill="#f0c2b2" /><path d="M1650.0,790.0 C1662.5,781.7 1695.8,781.7 1705.0,800.0 C1714.2,818.3 1707.5,875.0 1705.0,900.0 C1702.5,925.0 1703.3,941.7 1690.0,950.0 C1676.7,958.3 1635.0,966.7 1625.0,950.0 C1615.0,933.3 1625.8,876.7 1630.0,850.0 C1634.2,823.3 1637.5,798.3 1650.0,790.0Z" fill="#f0c2b2" /><path d="M1478.0,798.0 C1483.0,789.8 1505.7,786.8 1512.0,793.0 C1518.3,799.2 1521.0,826.8 1516.0,835.0 C1511.0,843.2 1488.3,848.2 1482.0,842.0 C1475.7,835.8 1473.0,806.2 1478.0,798.0Z" fill="#f4e5cd" opacity="0.38"/><path d="M1480.0,878.0 C1485.0,869.2 1508.3,865.3 1515.0,872.0 C1521.7,878.7 1525.0,909.2 1520.0,918.0 C1515.0,926.8 1491.7,931.7 1485.0,925.0 C1478.3,918.3 1475.0,886.8 1480.0,878.0Z" fill="#f4e5cd" opacity="0.38"/><path d="M1597.0,798.0 C1602.2,789.7 1625.5,786.3 1632.0,793.0 C1638.5,799.7 1641.2,829.7 1636.0,838.0 C1630.8,846.3 1607.5,849.7 1601.0,843.0 C1594.5,836.3 1591.8,806.3 1597.0,798.0Z" fill="#f4e5cd" opacity="0.38"/><path d="M1600.0,880.0 C1605.3,871.7 1629.3,868.3 1636.0,875.0 C1642.7,881.7 1645.3,911.7 1640.0,920.0 C1634.7,928.3 1610.7,931.7 1604.0,925.0 C1597.3,918.3 1594.7,888.3 1600.0,880.0Z" fill="#f4e5cd" opacity="0.38"/><path d="M1475.0,735.0 C1478.7,731.7 1495.0,729.5 1500.0,732.0 C1505.0,734.5 1508.7,746.7 1505.0,750.0 C1501.3,753.3 1483.0,754.5 1478.0,752.0 C1473.0,749.5 1471.3,738.3 1475.0,735.0Z" fill="#f7ece0" /><path d="M1602.0,735.0 C1605.8,731.7 1623.0,729.5 1628.0,732.0 C1633.0,734.5 1635.8,746.7 1632.0,750.0 C1628.2,753.3 1610.0,754.5 1605.0,752.0 C1600.0,749.5 1598.2,738.3 1602.0,735.0Z" fill="#f7ece0" /><path d="M1375.0,630.0 C1385.0,623.2 1400.3,619.3 1412.0,619.0 C1423.7,618.7 1436.7,622.0 1445.0,628.0 C1453.3,634.0 1458.2,643.0 1462.0,655.0 C1465.8,667.0 1468.0,682.5 1468.0,700.0 C1468.0,717.5 1466.7,742.0 1462.0,760.0 C1457.3,778.0 1449.5,796.7 1440.0,808.0 C1430.5,819.3 1416.7,826.8 1405.0,828.0 C1393.3,829.2 1379.2,824.7 1370.0,815.0 C1360.8,805.3 1354.2,787.5 1350.0,770.0 C1345.8,752.5 1344.7,728.3 1345.0,710.0 C1345.3,691.7 1347.0,673.3 1352.0,660.0 C1357.0,646.7 1365.0,636.8 1375.0,630.0Z" fill="#c9a686" stroke="#a58463" stroke-width="2.5"/><path d="M1360.0,775.0 C1363.3,764.5 1380.3,758.7 1392.0,752.0 C1403.7,745.3 1418.3,737.8 1430.0,735.0 C1441.7,732.2 1457.0,728.3 1462.0,735.0 C1467.0,741.7 1463.7,762.8 1460.0,775.0 C1456.3,787.2 1449.2,799.2 1440.0,808.0 C1430.8,816.8 1416.3,826.8 1405.0,828.0 C1393.7,829.2 1379.5,823.8 1372.0,815.0 C1364.5,806.2 1356.7,785.5 1360.0,775.0Z" fill="#a87152" stroke="#7b4a32" stroke-width="2"/><ellipse cx="1430" cy="700" rx="30" ry="35" fill="#c19d7d" opacity="0.85"/><path d="M1345.0,745.0 C1350.8,742.5 1367.5,737.5 1380.0,730.0 C1392.5,722.5 1413.3,705.0 1420.0,700.0 M1350.0,760.0 C1357.5,756.7 1382.5,745.8 1395.0,740.0 C1407.5,734.2 1420.0,727.5 1425.0,725.0 M1360.0,640.0 C1365.0,641.3 1383.3,644.7 1390.0,648.0 C1396.7,651.3 1398.3,658.0 1400.0,660.0 M1352.0,790.0 C1358.3,786.7 1378.7,775.0 1390.0,770.0 C1401.3,765.0 1415.0,761.7 1420.0,760.0 " fill="none" stroke="#f3e6dc" stroke-width="1.3" opacity="0.8"/><path d="M1680.0,600.0 C1690.0,594.5 1710.0,597.7 1722.0,603.0 C1734.0,608.3 1744.5,618.3 1752.0,632.0 C1759.5,645.7 1765.3,665.7 1767.0,685.0 C1768.7,704.3 1766.8,730.5 1762.0,748.0 C1757.2,765.5 1748.7,781.3 1738.0,790.0 C1727.3,798.7 1710.5,801.3 1698.0,800.0 C1685.5,798.7 1671.0,792.0 1663.0,782.0 C1655.0,772.0 1651.7,756.2 1650.0,740.0 C1648.3,723.8 1651.0,702.3 1653.0,685.0 C1655.0,667.7 1657.5,650.2 1662.0,636.0 C1666.5,621.8 1670.0,605.5 1680.0,600.0Z" fill="#c9a686" stroke="#a58463" stroke-width="2.5"/><path d="M1690.0,605.0 C1691.7,599.3 1711.7,601.0 1722.0,606.0 C1732.3,611.0 1744.5,621.0 1752.0,635.0 C1759.5,649.0 1765.3,670.0 1767.0,690.0 C1768.7,710.0 1766.5,737.3 1762.0,755.0 C1757.5,772.7 1747.0,790.2 1740.0,796.0 C1733.0,801.8 1720.8,799.3 1720.0,790.0 C1719.2,780.7 1733.0,758.3 1735.0,740.0 C1737.0,721.7 1735.8,696.7 1732.0,680.0 C1728.2,663.3 1719.0,652.5 1712.0,640.0 C1705.0,627.5 1688.3,610.7 1690.0,605.0Z" fill="#a46c4c" stroke="#7b4a32" stroke-width="2"/><ellipse cx="1690" cy="745" rx="33" ry="38" fill="#c3a07f" opacity="0.85"/><path d="M1740.0,690.0 C1745.0,691.7 1760.0,698.3 1770.0,700.0 C1780.0,701.7 1795.0,700.0 1800.0,700.0 M1745.0,720.0 C1750.0,722.5 1765.8,731.7 1775.0,735.0 C1784.2,738.3 1795.8,739.2 1800.0,740.0 M1700.0,790.0 C1705.0,791.7 1720.0,797.5 1730.0,800.0 C1740.0,802.5 1755.0,804.2 1760.0,805.0 " fill="none" stroke="#f3e6dc" stroke-width="1.3" opacity="0.8"/><path d="M1418.0,600.0 C1420.5,594.2 1428.8,589.2 1435.0,585.0 C1441.2,580.8 1447.8,576.8 1455.0,575.0 C1462.2,573.2 1471.8,570.7 1478.0,574.0 C1484.2,577.3 1489.3,585.7 1492.0,595.0 C1494.7,604.3 1495.7,619.5 1494.0,630.0 C1492.3,640.5 1486.7,652.3 1482.0,658.0 C1477.3,663.7 1471.0,665.7 1466.0,664.0 C1461.0,662.3 1456.3,653.7 1452.0,648.0 C1447.7,642.3 1445.3,634.7 1440.0,630.0 C1434.7,625.3 1423.7,625.0 1420.0,620.0 C1416.3,615.0 1415.5,605.8 1418.0,600.0Z" fill="#f3e2b5" stroke="#b99a6a" stroke-width="1.6"/><path d="M1620.0,606.0 C1621.7,598.3 1627.3,596.7 1632.0,594.0 C1636.7,591.3 1643.7,588.3 1648.0,590.0 C1652.3,591.7 1656.7,597.3 1658.0,604.0 C1659.3,610.7 1657.7,622.0 1656.0,630.0 C1654.3,638.0 1652.0,647.0 1648.0,652.0 C1644.0,657.0 1636.3,662.0 1632.0,660.0 C1627.7,658.0 1624.0,649.0 1622.0,640.0 C1620.0,631.0 1618.3,613.7 1620.0,606.0Z" fill="#f3e2b5" stroke="#b99a6a" stroke-width="1.6"/><path d="M1461.1,630.4 q4,-5 8,0 M1468.3,640.7 q4,-5 8,0 M1466.0,639.6 q4,-5 8,0 M1436.4,616.2 q4,-5 8,0 M1474.4,625.6 q4,-5 8,0 M1472.7,598.2 q4,-5 8,0 M1454.7,605.0 q4,-5 8,0 M1457.8,621.8 q4,-5 8,0 M1435.7,603.5 q4,-5 8,0 M1446.8,639.3 q4,-5 8,0 M1467.1,600.6 q4,-5 8,0 M1468.4,599.5 q4,-5 8,0 M1460.9,598.9 q4,-5 8,0 M1435.3,637.0 q4,-5 8,0 M1633.4,614.1 q4,-5 8,0 M1648.3,639.3 q4,-5 8,0 M1635.0,642.7 q4,-5 8,0 M1639.8,631.8 q4,-5 8,0 M1633.3,641.9 q4,-5 8,0 M1642.7,642.9 q4,-5 8,0 M1646.6,617.3 q4,-5 8,0 " fill="none" stroke="#a5865c" stroke-width="1.3"/><path d="M1508,538 L1546,538 L1546,868 C1538,892 1515,915 1492,938 L1470,928 C1492,905 1508,888 1508,868Z" fill="#b3b7ea"/><path d="M1516,540 L1524,540 L1524,880 L1516,880Z" fill="#c9ccf2" opacity="0.8"/><path d="M1514,645 C1518,632 1540,628 1546,642 L1546,700 L1532,712 L1528,760 L1522,800 L1508,800 L1506,732 L1440,732 L1436,712 L1506,708 L1512,690Z" fill="#5c80e4"/><path d="M1440,700 L1690,697 L1692,716 L1440,719Z" fill="#b6b9ea"/><path d="M1562,650 L1582,650 L1582,735 L1562,735Z" fill="#eb9f90" stroke="#d98474" stroke-width="1.5"/><path d="M1545,733 L1580,733 L1583,875 L1546,875Z" fill="#ea7483"/><path d="M1546,735 L1562,735 L1562,870 L1547,870Z" fill="#d9374f"/><path d="M1556.0,646.0 C1556.7,643.3 1557.3,634.7 1560.0,630.0 C1562.7,625.3 1567.0,621.0 1572.0,618.0 C1577.0,615.0 1584.7,612.7 1590.0,612.0 C1595.3,611.3 1601.7,613.7 1604.0,614.0" fill="none" stroke="#c8635b" stroke-width="12" stroke-linecap="round"/><path d="M1556.0,646.0 C1556.7,643.3 1557.3,634.7 1560.0,630.0 C1562.7,625.3 1567.0,621.0 1572.0,618.0 C1577.0,615.0 1584.7,612.7 1590.0,612.0 C1595.3,611.3 1601.7,613.7 1604.0,614.0" fill="none" stroke="#eb9a8c" stroke-width="8.5" stroke-linecap="round"/><ellipse cx="1555" cy="648" rx="6" ry="5" fill="#f0b0a4" stroke="#c8635b" stroke-width="1.5"/><path d="M1546,855 C1530,880 1500,905 1462,935 L1485,948 C1520,920 1548,898 1562,888Z" fill="#e98a8c"/><path d="M1583,855 C1600,880 1630,905 1668,935 L1645,948 C1610,920 1582,898 1568,888Z" fill="#e98a8c"/><path d="M1546,864 L1564,884 L1583,864 L1583,874 L1564,896 L1546,874Z" fill="#d9374f"/><path d="M1530,912 C1545,888 1585,888 1600,912 L1590,918 C1578,900 1552,900 1540,918Z" fill="#6f86e6"/><path d="M1540,918 C1552,904 1578,904 1590,918 L1592,945 L1538,945Z" fill="#e6e3f3"/><path d="M1484.0,790.0 C1482.5,795.0 1479.3,810.0 1475.0,820.0 C1470.7,830.0 1462.5,841.3 1458.0,850.0 C1453.5,858.7 1449.7,868.3 1448.0,872.0" fill="none" stroke="#8e98e0" stroke-width="5" /><path d="M1490.0,792.0 C1488.7,797.0 1486.0,812.0 1482.0,822.0 C1478.0,832.0 1470.3,843.0 1466.0,852.0 C1461.7,861.0 1457.7,872.0 1456.0,876.0" fill="none" stroke="#e2717b" stroke-width="4" /><path d="M1468.0,735.0 C1467.7,739.2 1466.3,755.8 1466.0,760.0" fill="none" stroke="#8e98e0" stroke-width="3" /><path d="M1632.0,650.0 C1632.3,661.7 1632.3,696.7 1634.0,720.0 C1635.7,743.3 1638.3,768.3 1642.0,790.0 C1645.7,811.7 1652.7,832.5 1656.0,850.0 C1659.3,867.5 1661.0,887.5 1662.0,895.0" fill="none" stroke="#8e98e0" stroke-width="4" /><path d="M1620.0,740.0 C1621.0,750.0 1622.3,781.3 1626.0,800.0 C1629.7,818.7 1637.7,836.7 1642.0,852.0 C1646.3,867.3 1650.3,885.3 1652.0,892.0" fill="none" stroke="#e2717b" stroke-width="4" /><path d="M1600.0,760.0 C1601.7,770.0 1605.8,800.0 1610.0,820.0 C1614.2,840.0 1620.0,863.3 1625.0,880.0 C1630.0,896.7 1637.5,913.3 1640.0,920.0" fill="none" stroke="#d9707a" stroke-width="3" /><path d="M1450.0,560.0 C1455.0,565.0 1470.8,581.7 1480.0,590.0 C1489.2,598.3 1497.0,608.3 1505.0,610.0 C1513.0,611.7 1524.2,601.7 1528.0,600.0 M1478.0,620.0 C1481.7,623.3 1493.0,635.3 1500.0,640.0 C1507.0,644.7 1516.7,646.7 1520.0,648.0 M1600.0,565.0 C1606.7,569.2 1626.7,587.5 1640.0,590.0 C1653.3,592.5 1666.7,583.3 1680.0,580.0 C1693.3,576.7 1713.3,571.7 1720.0,570.0 M1650.0,620.0 C1656.7,623.3 1678.0,633.0 1690.0,640.0 C1702.0,647.0 1716.7,658.3 1722.0,662.0 M1700.0,640.0 C1703.7,638.3 1715.0,635.0 1722.0,630.0 C1729.0,625.0 1738.7,613.3 1742.0,610.0 M1470.0,650.0 C1473.3,655.0 1489.7,671.7 1490.0,680.0 C1490.3,688.3 1475.0,696.7 1472.0,700.0 M1600.0,650.0 C1605.0,655.0 1620.0,673.0 1630.0,680.0 C1640.0,687.0 1655.0,690.0 1660.0,692.0 M1480.0,640.0 C1484.2,641.7 1496.7,646.7 1505.0,650.0 C1513.3,653.3 1525.8,658.3 1530.0,660.0 M1660.0,600.0 C1666.7,601.7 1688.3,603.3 1700.0,610.0 C1711.7,616.7 1725.0,635.0 1730.0,640.0 M1690.0,660.0 C1692.5,665.0 1703.3,683.3 1705.0,690.0 C1706.7,696.7 1700.8,698.3 1700.0,700.0 " fill="none" stroke="#e0696b" stroke-width="2.2"/><path d="M1705.0,650.0 C1706.8,646.7 1712.2,635.8 1716.0,630.0 C1719.8,624.2 1726.0,617.5 1728.0,615.0" fill="none" stroke="#d73a4b" stroke-width="3" /><path d="M1710.0,655.0 C1712.0,652.5 1717.8,644.2 1722.0,640.0 C1726.2,635.8 1732.8,631.7 1735.0,630.0" fill="none" stroke="#d73a4b" stroke-width="2.5" /><path d="M1600.0,588.0 C1603.3,585.8 1613.3,578.3 1620.0,575.0 C1626.7,571.7 1636.7,569.2 1640.0,568.0" fill="none" stroke="#d73a4b" stroke-width="2.5" /><path d="M1605.0,580.0 C1608.3,577.5 1618.3,568.7 1625.0,565.0 C1631.7,561.3 1641.7,559.2 1645.0,558.0" fill="none" stroke="#d73a4b" stroke-width="2.5" /><path d="M1612.0,590.0 C1615.0,588.3 1622.8,582.5 1630.0,580.0 C1637.2,577.5 1650.8,575.8 1655.0,575.0" fill="none" stroke="#d73a4b" stroke-width="2" /><path d="M1436.0,712.0 C1441.7,709.3 1458.5,710.0 1470.0,708.0 C1481.5,706.0 1498.0,703.0 1505.0,700.0 C1512.0,697.0 1510.8,699.2 1512.0,690.0 C1513.2,680.8 1509.3,654.3 1512.0,645.0 C1514.7,635.7 1522.5,634.5 1528.0,634.0 C1533.5,633.5 1542.2,631.5 1545.0,642.0 C1547.8,652.5 1535.8,687.8 1545.0,697.0 C1554.2,706.2 1578.3,697.3 1600.0,697.0 C1621.7,696.7 1655.7,697.8 1675.0,695.0 C1694.3,692.2 1709.2,680.5 1716.0,680.0 C1722.8,679.5 1724.2,686.0 1716.0,692.0 C1707.8,698.0 1688.8,709.3 1667.0,716.0 C1645.2,722.7 1609.5,728.7 1585.0,732.0 C1560.5,735.3 1536.3,737.7 1520.0,736.0 C1503.7,734.3 1501.0,724.0 1487.0,722.0 C1473.0,720.0 1444.5,725.7 1436.0,724.0 C1427.5,722.3 1430.3,714.7 1436.0,712.0Z" fill="#ffffff" opacity="0.28"/><path d="M1408.0,781.0 C1416.7,761.8 1437.3,784.3 1460.0,785.0 C1482.7,785.7 1530.0,758.5 1544.0,785.0 C1558.0,811.5 1566.7,924.8 1544.0,944.0 C1521.3,963.2 1430.7,927.2 1408.0,900.0 C1385.3,872.8 1399.3,800.2 1408.0,781.0Z" fill="#ffffff" opacity="0.28"/><path d="M1581.0,756.0 C1592.5,753.3 1634.5,761.2 1646.0,781.0 C1657.5,800.8 1657.7,848.5 1650.0,875.0 C1642.3,901.5 1612.2,928.5 1600.0,940.0 C1587.8,951.5 1580.8,967.8 1577.0,944.0 C1573.2,920.2 1576.3,828.3 1577.0,797.0 C1577.7,765.7 1569.5,758.7 1581.0,756.0Z" fill="#ffffff" opacity="0.28"/><path d="M1360.0,622.0 C1365.8,619.0 1383.3,610.2 1395.0,604.0 C1406.7,597.8 1419.2,591.5 1430.0,585.0 C1440.8,578.5 1451.7,570.2 1460.0,565.0 C1468.3,559.8 1470.0,555.8 1480.0,554.0 C1490.0,552.2 1506.7,553.8 1520.0,554.0 C1533.3,554.2 1546.5,554.8 1560.0,555.0 C1573.5,555.2 1594.2,555.0 1601.0,555.0 M1601.0,545.0 C1601.3,550.3 1596.5,571.2 1603.0,577.0 C1609.5,582.8 1627.2,578.7 1640.0,580.0 C1652.8,581.3 1669.2,582.0 1680.0,585.0 C1690.8,588.0 1698.0,593.5 1705.0,598.0 C1712.0,602.5 1716.2,604.2 1722.0,612.0 C1727.8,619.8 1735.3,633.2 1740.0,645.0 C1744.7,656.8 1746.3,665.8 1750.0,683.0 C1753.7,700.2 1758.2,722.8 1762.0,748.0 C1765.8,773.2 1771.2,819.7 1773.0,834.0 M1612.0,540.0 C1612.0,544.7 1604.0,563.0 1612.0,568.0 C1620.0,573.0 1645.3,569.3 1660.0,570.0 C1674.7,570.7 1688.3,568.7 1700.0,572.0 C1711.7,575.3 1720.3,581.2 1730.0,590.0 C1739.7,598.8 1748.0,606.7 1758.0,625.0 C1768.0,643.3 1783.0,674.2 1790.0,700.0 C1797.0,725.8 1800.0,756.7 1800.0,780.0 C1800.0,803.3 1791.7,830.0 1790.0,840.0 M1434.0,720.0 C1440.0,718.8 1459.7,714.5 1470.0,713.0 C1480.3,711.5 1489.0,714.7 1496.0,711.0 C1503.0,707.3 1509.3,702.0 1512.0,691.0 C1514.7,680.0 1509.3,654.5 1512.0,645.0 C1514.7,635.5 1522.5,634.5 1528.0,634.0 C1533.5,633.5 1542.7,633.8 1545.0,642.0 C1547.3,650.2 1542.2,673.5 1542.0,683.0 C1541.8,692.5 1534.3,696.5 1544.0,699.0 C1553.7,701.5 1578.2,698.7 1600.0,698.0 C1621.8,697.3 1657.2,697.5 1675.0,695.0 C1692.8,692.5 1700.2,686.3 1707.0,683.0 C1713.8,679.7 1714.5,676.3 1716.0,675.0 M1716.0,691.0 C1707.8,695.2 1682.0,710.5 1667.0,716.0 C1652.0,721.5 1639.7,721.3 1626.0,724.0 C1612.3,726.7 1598.7,729.3 1585.0,732.0 C1571.3,734.7 1554.8,739.3 1544.0,740.0 C1533.2,740.7 1526.7,738.0 1520.0,736.0 C1513.3,734.0 1509.5,730.7 1504.0,728.0 C1498.5,725.3 1498.7,720.7 1487.0,720.0 C1475.3,719.3 1448.2,719.3 1434.0,724.0 C1419.8,728.7 1411.8,739.5 1402.0,748.0 C1392.2,756.5 1381.8,766.8 1375.0,775.0 C1368.2,783.2 1363.3,793.3 1361.0,797.0 M1408.0,879.0 C1408.0,862.7 1397.7,797.0 1408.0,781.0 C1418.3,765.0 1447.3,782.3 1470.0,783.0 C1492.7,783.7 1531.7,770.5 1544.0,785.0 C1556.3,799.5 1544.0,843.5 1544.0,870.0 C1544.0,896.5 1544.0,931.7 1544.0,944.0 M1577.0,944.0 C1577.0,919.5 1576.3,828.3 1577.0,797.0 C1577.7,765.7 1573.8,761.3 1581.0,756.0 C1588.2,750.7 1609.2,760.8 1620.0,765.0 C1630.8,769.2 1641.0,770.2 1646.0,781.0 C1651.0,791.8 1649.3,814.3 1650.0,830.0 C1650.7,845.7 1650.0,867.5 1650.0,875.0 M1711.0,699.0 C1712.5,709.8 1718.5,742.8 1720.0,764.0 C1721.5,785.2 1719.7,807.5 1720.0,826.0 C1720.3,844.5 1721.7,866.8 1722.0,875.0 " fill="none" stroke="#fbf3ea" stroke-width="7" opacity="0.45" stroke-linejoin="round"/><path d="M1360.0,622.0 C1365.8,619.0 1383.3,610.2 1395.0,604.0 C1406.7,597.8 1419.2,591.5 1430.0,585.0 C1440.8,578.5 1451.7,570.2 1460.0,565.0 C1468.3,559.8 1470.0,555.8 1480.0,554.0 C1490.0,552.2 1506.7,553.8 1520.0,554.0 C1533.3,554.2 1546.5,554.8 1560.0,555.0 C1573.5,555.2 1594.2,555.0 1601.0,555.0 M1601.0,545.0 C1601.3,550.3 1596.5,571.2 1603.0,577.0 C1609.5,582.8 1627.2,578.7 1640.0,580.0 C1652.8,581.3 1669.2,582.0 1680.0,585.0 C1690.8,588.0 1698.0,593.5 1705.0,598.0 C1712.0,602.5 1716.2,604.2 1722.0,612.0 C1727.8,619.8 1735.3,633.2 1740.0,645.0 C1744.7,656.8 1746.3,665.8 1750.0,683.0 C1753.7,700.2 1758.2,722.8 1762.0,748.0 C1765.8,773.2 1771.2,819.7 1773.0,834.0 M1612.0,540.0 C1612.0,544.7 1604.0,563.0 1612.0,568.0 C1620.0,573.0 1645.3,569.3 1660.0,570.0 C1674.7,570.7 1688.3,568.7 1700.0,572.0 C1711.7,575.3 1720.3,581.2 1730.0,590.0 C1739.7,598.8 1748.0,606.7 1758.0,625.0 C1768.0,643.3 1783.0,674.2 1790.0,700.0 C1797.0,725.8 1800.0,756.7 1800.0,780.0 C1800.0,803.3 1791.7,830.0 1790.0,840.0 M1434.0,720.0 C1440.0,718.8 1459.7,714.5 1470.0,713.0 C1480.3,711.5 1489.0,714.7 1496.0,711.0 C1503.0,707.3 1509.3,702.0 1512.0,691.0 C1514.7,680.0 1509.3,654.5 1512.0,645.0 C1514.7,635.5 1522.5,634.5 1528.0,634.0 C1533.5,633.5 1542.7,633.8 1545.0,642.0 C1547.3,650.2 1542.2,673.5 1542.0,683.0 C1541.8,692.5 1534.3,696.5 1544.0,699.0 C1553.7,701.5 1578.2,698.7 1600.0,698.0 C1621.8,697.3 1657.2,697.5 1675.0,695.0 C1692.8,692.5 1700.2,686.3 1707.0,683.0 C1713.8,679.7 1714.5,676.3 1716.0,675.0 M1716.0,691.0 C1707.8,695.2 1682.0,710.5 1667.0,716.0 C1652.0,721.5 1639.7,721.3 1626.0,724.0 C1612.3,726.7 1598.7,729.3 1585.0,732.0 C1571.3,734.7 1554.8,739.3 1544.0,740.0 C1533.2,740.7 1526.7,738.0 1520.0,736.0 C1513.3,734.0 1509.5,730.7 1504.0,728.0 C1498.5,725.3 1498.7,720.7 1487.0,720.0 C1475.3,719.3 1448.2,719.3 1434.0,724.0 C1419.8,728.7 1411.8,739.5 1402.0,748.0 C1392.2,756.5 1381.8,766.8 1375.0,775.0 C1368.2,783.2 1363.3,793.3 1361.0,797.0 M1408.0,879.0 C1408.0,862.7 1397.7,797.0 1408.0,781.0 C1418.3,765.0 1447.3,782.3 1470.0,783.0 C1492.7,783.7 1531.7,770.5 1544.0,785.0 C1556.3,799.5 1544.0,843.5 1544.0,870.0 C1544.0,896.5 1544.0,931.7 1544.0,944.0 M1577.0,944.0 C1577.0,919.5 1576.3,828.3 1577.0,797.0 C1577.7,765.7 1573.8,761.3 1581.0,756.0 C1588.2,750.7 1609.2,760.8 1620.0,765.0 C1630.8,769.2 1641.0,770.2 1646.0,781.0 C1651.0,791.8 1649.3,814.3 1650.0,830.0 C1650.7,845.7 1650.0,867.5 1650.0,875.0 M1711.0,699.0 C1712.5,709.8 1718.5,742.8 1720.0,764.0 C1721.5,785.2 1719.7,807.5 1720.0,826.0 C1720.3,844.5 1721.7,866.8 1722.0,875.0 " fill="none" stroke="#e0b847" stroke-width="2.6" stroke-linejoin="round"/></g>

<g transform="translate(111.90 110.70) scale(31.1000 31.1000)" fill="none" stroke="#7b44a7" stroke-width="9.80" stroke-linecap="round" stroke-linejoin="round" ><path vector-effect="non-scaling-stroke" transform="translate(0.000 0) scale(1.100 1)" d="M0,0 L0,1"/><path vector-effect="non-scaling-stroke" transform="translate(0.505 0) scale(1.100 1)" d="M0,1 L0,0.02 L0.56,0.98 L0.56,0"/><path vector-effect="non-scaling-stroke" transform="translate(1.625 0) scale(1.100 1)" d="M0,0.02 L0.56,0.02 M0.28,0.02 L0.28,1"/><path vector-effect="non-scaling-stroke" transform="translate(2.746 0) scale(1.100 1)" d="M0,1 L0,0.02 C0.66,-0.02 0.66,0.56 0,0.54 L0.5,1"/><path vector-effect="non-scaling-stroke" transform="translate(3.801 0) scale(1.100 1)" d="M0,1 L0.26,0.04 Q0.3,-0.04 0.34,0.04 L0.6,1 M0.1,0.64 L0.5,0.64"/><path vector-effect="non-scaling-stroke" transform="translate(4.966 0) scale(1.100 1)" d="M0,1 L0,0.02 C0.66,-0.02 0.66,0.56 0,0.54"/><path vector-effect="non-scaling-stroke" transform="translate(5.998 0) scale(1.100 1)" d="M0.44,0.02 L0,0.02 L0,1 L0.44,1 M0,0.5 L0.38,0.5"/><path vector-effect="non-scaling-stroke" transform="translate(6.987 0) scale(1.100 1)" d="M0,1 L0,0.02 C0.66,-0.02 0.66,0.56 0,0.54 L0.5,1"/><path vector-effect="non-scaling-stroke" transform="translate(8.042 0) scale(1.100 1)" d="M0,0 L0,1"/><path vector-effect="non-scaling-stroke" transform="translate(8.547 0) scale(1.100 1)" d="M0,0.02 L0.56,0.02 M0.28,0.02 L0.28,1"/><path vector-effect="non-scaling-stroke" transform="translate(9.667 0) scale(1.100 1)" d="M0.28,0 C0.65,0 0.65,1 0.28,1 C-0.09,1 -0.09,0 0.28,0 Z"/><path vector-effect="non-scaling-stroke" transform="translate(10.788 0) scale(1.100 1)" d="M0,1 L0,0.02 L0.56,0.98 L0.56,0"/><path vector-effect="non-scaling-stroke" transform="translate(11.909 0) scale(1.100 1)" d="M0.44,0.02 L0,0.02 L0,1 L0.44,1 M0,0.5 L0.38,0.5"/><path vector-effect="non-scaling-stroke" transform="translate(12.897 0) scale(1.100 1)" d="M0,1 L0.26,0.04 Q0.3,-0.04 0.34,0.04 L0.6,1 M0.1,0.64 L0.5,0.64"/><path vector-effect="non-scaling-stroke" transform="translate(14.062 0) scale(1.100 1)" d="M0,0 L0,1 L0.42,1"/></g><g transform="translate(109.10 167.10) scale(24.8000 24.8000)" fill="none" stroke="#7b44a7" stroke-width="4.20" stroke-linecap="round" stroke-linejoin="round" ><path vector-effect="non-scaling-stroke" transform="translate(0.000 0) scale(1.100 1)" d="M0.52,0.16 C0.42,-0.02 0.0,-0.06 0.0,0.5 C0.0,1.06 0.42,1.02 0.52,0.86"/><path vector-effect="non-scaling-stroke" transform="translate(0.927 0) scale(1.100 1)" d="M0.28,0 C0.65,0 0.65,1 0.28,1 C-0.09,1 -0.09,0 0.28,0 Z"/><path vector-effect="non-scaling-stroke" transform="translate(1.898 0) scale(1.100 1)" d="M0,1 L0.06,0.02 L0.35,0.68 L0.64,0.02 L0.7,1"/><path vector-effect="non-scaling-stroke" transform="translate(3.023 0) scale(1.100 1)" d="M0,1 L0,0.02 C0.66,-0.02 0.66,0.56 0,0.54"/><path vector-effect="non-scaling-stroke" transform="translate(3.906 0) scale(1.100 1)" d="M0,0 L0,1 L0.42,1"/><path vector-effect="non-scaling-stroke" transform="translate(4.724 0) scale(1.100 1)" d="M0.44,0.02 L0,0.02 L0,1 L0.44,1 M0,0.5 L0.38,0.5"/><path vector-effect="non-scaling-stroke" transform="translate(5.563 0) scale(1.100 1)" d="M0,0.02 L0.56,0.02 M0.28,0.02 L0.28,1"/><path vector-effect="non-scaling-stroke" transform="translate(6.534 0) scale(1.100 1)" d="M0.44,0.02 L0,0.02 L0,1 L0.44,1 M0,0.5 L0.38,0.5"/><path vector-effect="non-scaling-stroke" transform="translate(7.373 0) scale(1.100 1)" d="M0,0 L0,1 L0.42,1"/><path vector-effect="non-scaling-stroke" transform="translate(8.190 0) scale(1.100 1)" d="M0,0 L0.27,0.5 L0.54,0 M0.27,0.5 L0.27,1"/><path vector-effect="non-scaling-stroke" transform="translate(9.559 0) scale(1.100 1)" d="M0.52,0.16 C0.42,-0.02 0.0,-0.06 0.0,0.5 C0.0,1.06 0.42,1.02 0.52,0.86"/><path vector-effect="non-scaling-stroke" transform="translate(10.486 0) scale(1.100 1)" d="M0.28,0 C0.65,0 0.65,1 0.28,1 C-0.09,1 -0.09,0 0.28,0 Z"/><path vector-effect="non-scaling-stroke" transform="translate(11.457 0) scale(1.100 1)" d="M0,0 L0.28,1 L0.56,0"/><path vector-effect="non-scaling-stroke" transform="translate(12.429 0) scale(1.100 1)" d="M0.44,0.02 L0,0.02 L0,1 L0.44,1 M0,0.5 L0.38,0.5"/><path vector-effect="non-scaling-stroke" transform="translate(13.268 0) scale(1.100 1)" d="M0,1 L0,0.02 C0.66,-0.02 0.66,0.56 0,0.54 L0.5,1"/><path vector-effect="non-scaling-stroke" transform="translate(14.173 0) scale(1.100 1)" d="M0.44,0.02 L0,0.02 L0,1 L0.44,1 M0,0.5 L0.38,0.5"/><path vector-effect="non-scaling-stroke" transform="translate(15.012 0) scale(1.100 1)" d="M0,0.02 L0,1 C0.74,1.02 0.74,-0.02 0,0.02"/></g><g transform="translate(512.50 167.10) scale(24.8000 24.8000)" fill="none" stroke="#7b44a7" stroke-width="4.20" stroke-linecap="round" stroke-linejoin="round" ><path vector-effect="non-scaling-stroke" transform="translate(0.000 0) scale(1.100 1)" d="M0,0.44 L0.15,1 L0.31,0.56 L0.47,1 L0.62,0.44"/><path vector-effect="non-scaling-stroke" transform="translate(0.915 0) scale(1.100 1)" d="M0,0.46 L0,1 M0,0.24 L0,0.25"/><path vector-effect="non-scaling-stroke" transform="translate(1.148 0) scale(1.100 1)" d="M0.12,0.16 L0.12,0.88 C0.12,1.02 0.28,1.02 0.34,0.94 M0,0.46 L0.32,0.46"/><path vector-effect="non-scaling-stroke" transform="translate(1.756 0) scale(1.100 1)" d="M0,0.14 L0,1 M0,0.66 C0.04,0.4 0.42,0.4 0.42,0.66 L0.42,1"/></g><g transform="translate(110.20 208.20) scale(23.6000 23.6000)" fill="none" stroke="#7b44a7" stroke-width="6.40" stroke-linecap="round" stroke-linejoin="round" ><path vector-effect="non-scaling-stroke" transform="translate(0.000 0) scale(1.100 1)" d="M0,0 L0.28,1 L0.56,0"/><path vector-effect="non-scaling-stroke" transform="translate(1.053 0) scale(1.100 1)" d="M0,0 L0,1"/><path vector-effect="non-scaling-stroke" transform="translate(1.491 0) scale(1.100 1)" d="M0.47,0.14 C0.38,-0.02 0.0,-0.03 0.0,0.25 C0.0,0.52 0.48,0.44 0.48,0.74 C0.48,1.04 0.06,1.04 0.0,0.86"/><path vector-effect="non-scaling-stroke" transform="translate(2.456 0) scale(1.100 1)" d="M0.52,0.16 C0.42,-0.02 0.0,-0.06 0.0,0.5 C0.0,1.06 0.42,1.02 0.52,0.86"/><path vector-effect="non-scaling-stroke" transform="translate(3.465 0) scale(1.100 1)" d="M0.44,0.02 L0,0.02 L0,1 L0.44,1 M0,0.5 L0.38,0.5"/><path vector-effect="non-scaling-stroke" transform="translate(4.387 0) scale(1.100 1)" d="M0,1 L0,0.02 C0.66,-0.02 0.66,0.56 0,0.54 L0.5,1"/><path vector-effect="non-scaling-stroke" transform="translate(5.374 0) scale(1.100 1)" d="M0,1 L0.26,0.04 Q0.3,-0.04 0.34,0.04 L0.6,1 M0.1,0.64 L0.5,0.64"/><path vector-effect="non-scaling-stroke" transform="translate(6.471 0) scale(1.100 1)" d="M0,0 L0,1 L0.42,1"/><path vector-effect="non-scaling-stroke" transform="translate(7.791 0) scale(1.100 1)" d="M0,1 L0,0.02 C0.66,-0.02 0.66,0.56 0,0.54"/><path vector-effect="non-scaling-stroke" transform="translate(8.756 0) scale(1.100 1)" d="M0.44,0.02 L0,0.02 L0,1 L0.44,1 M0,0.5 L0.38,0.5"/><path vector-effect="non-scaling-stroke" transform="translate(9.677 0) scale(1.100 1)" d="M0,1 L0,0.02 C0.66,-0.02 0.66,0.56 0,0.54 L0.5,1"/><path vector-effect="non-scaling-stroke" transform="translate(10.665 0) scale(1.100 1)" d="M0,0 L0,1"/><path vector-effect="non-scaling-stroke" transform="translate(11.102 0) scale(1.100 1)" d="M0,0.02 L0.56,0.02 M0.28,0.02 L0.28,1"/><path vector-effect="non-scaling-stroke" transform="translate(12.155 0) scale(1.100 1)" d="M0.28,0 C0.65,0 0.65,1 0.28,1 C-0.09,1 -0.09,0 0.28,0 Z"/><path vector-effect="non-scaling-stroke" transform="translate(13.209 0) scale(1.100 1)" d="M0,1 L0,0.02 L0.56,0.98 L0.56,0"/><path vector-effect="non-scaling-stroke" transform="translate(14.262 0) scale(1.100 1)" d="M0.44,0.02 L0,0.02 L0,1 L0.44,1 M0,0.5 L0.38,0.5"/><path vector-effect="non-scaling-stroke" transform="translate(15.183 0) scale(1.100 1)" d="M0,0 L0,0.68 C0,1.06 0.55,1.06 0.55,0.68 L0.55,0"/><path vector-effect="non-scaling-stroke" transform="translate(16.226 0) scale(1.100 1)" d="M0,1 L0.06,0.02 L0.35,0.68 L0.64,0.02 L0.7,1"/></g><g transform="translate(143.95 473.95) scale(24.6000 24.6000)" fill="none" stroke="#7242a2" stroke-width="3.90" stroke-linecap="round" stroke-linejoin="round" ><path vector-effect="non-scaling-stroke" transform="translate(0.000 0) scale(1.100 1)" d="M0.47,0.14 C0.38,-0.02 0.0,-0.03 0.0,0.25 C0.0,0.52 0.48,0.44 0.48,0.74 C0.48,1.04 0.06,1.04 0.0,0.86"/><path vector-effect="non-scaling-stroke" transform="translate(0.851 0) scale(1.100 1)" d="M0,0.02 L0.56,0.02 M0.28,0.02 L0.28,1"/><path vector-effect="non-scaling-stroke" transform="translate(1.790 0) scale(1.100 1)" d="M0.28,0 C0.65,0 0.65,1 0.28,1 C-0.09,1 -0.09,0 0.28,0 Z"/><path vector-effect="non-scaling-stroke" transform="translate(2.729 0) scale(1.100 1)" d="M0,1 L0.06,0.02 L0.35,0.68 L0.64,0.02 L0.7,1"/><path vector-effect="non-scaling-stroke" transform="translate(3.822 0) scale(1.100 1)" d="M0,1 L0.26,0.04 Q0.3,-0.04 0.34,0.04 L0.6,1 M0.1,0.64 L0.5,0.64"/><path vector-effect="non-scaling-stroke" transform="translate(4.805 0) scale(1.100 1)" d="M0.52,0.16 C0.42,-0.02 0.0,-0.06 0.0,0.5 C0.0,1.06 0.42,1.02 0.52,0.86"/><path vector-effect="non-scaling-stroke" transform="translate(5.700 0) scale(1.100 1)" d="M0,0 L0,1 M0.55,0 L0.55,1 M0,0.52 L0.55,0.52"/></g><g transform="translate(143.55 515.95) scale(25.7576 24.6000)" fill="none" stroke="#7242a2" stroke-width="3.90" stroke-linecap="round" stroke-linejoin="round" ><path vector-effect="non-scaling-stroke" transform="translate(0.000 0) scale(1.100 1)" d="M0.0,0.2 L0.17,0.02 L0.17,1 M0.0,1 L0.32,1"/></g><g transform="translate(156.75 517.25) scale(12.0000 12.0000)" fill="none" stroke="#7242a2" stroke-width="2.50" stroke-linecap="round" stroke-linejoin="round" ><path vector-effect="non-scaling-stroke" transform="translate(0.000 0) scale(1.100 1)" d="M0.39,0.52 C0.33,0.4 0.0,0.4 0.0,0.58 C0.0,0.74 0.4,0.7 0.4,0.86 C0.4,1.04 0.04,1.04 0.0,0.92"/><path vector-effect="non-scaling-stroke" transform="translate(0.709 0) scale(1.100 1)" d="M0.12,0.16 L0.12,0.88 C0.12,1.02 0.28,1.02 0.34,0.94 M0,0.46 L0.32,0.46"/></g><g transform="translate(185.65 515.95) scale(24.6000 24.6000)" fill="none" stroke="#7242a2" stroke-width="3.90" stroke-linecap="round" stroke-linejoin="round" ><path vector-effect="non-scaling-stroke" transform="translate(0.000 0) scale(1.100 1)" d="M0,1 L0,0.02 C0.66,-0.02 0.66,0.56 0,0.54"/><path vector-effect="non-scaling-stroke" transform="translate(0.843 0) scale(1.100 1)" d="M0,1 L0.26,0.04 Q0.3,-0.04 0.34,0.04 L0.6,1 M0.1,0.64 L0.5,0.64"/><path vector-effect="non-scaling-stroke" transform="translate(1.818 0) scale(1.100 1)" d="M0,1 L0,0.02 C0.66,-0.02 0.66,0.56 0,0.54 L0.5,1"/><path vector-effect="non-scaling-stroke" transform="translate(2.682 0) scale(1.100 1)" d="M0,0.02 L0.56,0.02 M0.28,0.02 L0.28,1"/><path vector-effect="non-scaling-stroke" transform="translate(4.033 0) scale(1.100 1)" d="M0,0.02 L0,1 C0.74,1.02 0.74,-0.02 0,0.02"/><path vector-effect="non-scaling-stroke" transform="translate(4.953 0) scale(1.100 1)" d="M0,0 L0,0.68 C0,1.06 0.55,1.06 0.55,0.68 L0.55,0"/><path vector-effect="non-scaling-stroke" transform="translate(5.873 0) scale(1.100 1)" d="M0.28,0 C0.65,0 0.65,1 0.28,1 C-0.09,1 -0.09,0 0.28,0 Z"/><path vector-effect="non-scaling-stroke" transform="translate(6.803 0) scale(1.100 1)" d="M0,0.02 L0,1 C0.74,1.02 0.74,-0.02 0,0.02"/><path vector-effect="non-scaling-stroke" transform="translate(7.723 0) scale(1.100 1)" d="M0.44,0.02 L0,0.02 L0,1 L0.44,1 M0,0.5 L0.38,0.5"/><path vector-effect="non-scaling-stroke" transform="translate(8.522 0) scale(1.100 1)" d="M0,1 L0,0.02 L0.56,0.98 L0.56,0"/><path vector-effect="non-scaling-stroke" transform="translate(9.453 0) scale(1.100 1)" d="M0,0 L0,0.68 C0,1.06 0.55,1.06 0.55,0.68 L0.55,0"/><path vector-effect="non-scaling-stroke" transform="translate(10.372 0) scale(1.100 1)" d="M0,1 L0.06,0.02 L0.35,0.68 L0.64,0.02 L0.7,1"/></g><g transform="translate(143.95 557.95) scale(24.6000 24.6000)" fill="none" stroke="#7242a2" stroke-width="3.90" stroke-linecap="round" stroke-linejoin="round" ><path vector-effect="non-scaling-stroke" transform="translate(0.000 0) scale(1.100 1)" d="M0.04,0.02 L0.46,0.02 M0.3,0.02 L0.3,0.74 C0.3,1.06 0.0,1.06 0.0,0.8"/><path vector-effect="non-scaling-stroke" transform="translate(0.927 0) scale(1.100 1)" d="M0.44,0.02 L0,0.02 L0,1 L0.44,1 M0,0.5 L0.38,0.5"/><path vector-effect="non-scaling-stroke" transform="translate(1.832 0) scale(1.100 1)" d="M0.04,0.02 L0.46,0.02 M0.3,0.02 L0.3,0.74 C0.3,1.06 0.0,1.06 0.0,0.8"/><path vector-effect="non-scaling-stroke" transform="translate(2.759 0) scale(1.100 1)" d="M0,0 L0,0.68 C0,1.06 0.55,1.06 0.55,0.68 L0.55,0"/><path vector-effect="non-scaling-stroke" transform="translate(3.785 0) scale(1.100 1)" d="M0,1 L0,0.02 L0.56,0.98 L0.56,0"/><path vector-effect="non-scaling-stroke" transform="translate(4.822 0) scale(1.100 1)" d="M0,0 L0,0.68 C0,1.06 0.55,1.06 0.55,0.68 L0.55,0"/><path vector-effect="non-scaling-stroke" transform="translate(5.848 0) scale(1.100 1)" d="M0,1 L0.06,0.02 L0.35,0.68 L0.64,0.02 L0.7,1"/></g><g transform="translate(143.95 599.95) scale(24.6000 24.6000)" fill="none" stroke="#7242a2" stroke-width="3.90" stroke-linecap="round" stroke-linejoin="round" ><path vector-effect="non-scaling-stroke" transform="translate(0.000 0) scale(1.100 1)" d="M0,0 L0,1"/><path vector-effect="non-scaling-stroke" transform="translate(0.366 0) scale(1.100 1)" d="M0,0 L0,1 L0.42,1"/><path vector-effect="non-scaling-stroke" transform="translate(1.194 0) scale(1.100 1)" d="M0.44,0.02 L0,0.02 L0,1 L0.44,1 M0,0.5 L0.38,0.5"/><path vector-effect="non-scaling-stroke" transform="translate(2.044 0) scale(1.100 1)" d="M0,0 L0,0.68 C0,1.06 0.55,1.06 0.55,0.68 L0.55,0"/><path vector-effect="non-scaling-stroke" transform="translate(3.015 0) scale(1.100 1)" d="M0,1 L0.06,0.02 L0.35,0.68 L0.64,0.02 L0.7,1"/></g><g transform="translate(143.95 641.95) scale(24.6000 24.6000)" fill="none" stroke="#7242a2" stroke-width="3.90" stroke-linecap="round" stroke-linejoin="round" ><path vector-effect="non-scaling-stroke" transform="translate(0.000 0) scale(1.100 1)" d="M0,0.02 L0.56,0.02 M0.28,0.02 L0.28,1"/><path vector-effect="non-scaling-stroke" transform="translate(0.985 0) scale(1.100 1)" d="M0,1 L0,0.02 C0.66,-0.02 0.66,0.56 0,0.54 L0.5,1"/><path vector-effect="non-scaling-stroke" transform="translate(1.904 0) scale(1.100 1)" d="M0,1 L0.26,0.04 Q0.3,-0.04 0.34,0.04 L0.6,1 M0.1,0.64 L0.5,0.64"/><path vector-effect="non-scaling-stroke" transform="translate(2.933 0) scale(1.100 1)" d="M0,1 L0,0.02 L0.56,0.98 L0.56,0"/><path vector-effect="non-scaling-stroke" transform="translate(3.918 0) scale(1.100 1)" d="M0.47,0.14 C0.38,-0.02 0.0,-0.03 0.0,0.25 C0.0,0.52 0.48,0.44 0.48,0.74 C0.48,1.04 0.06,1.04 0.0,0.86"/><path vector-effect="non-scaling-stroke" transform="translate(4.816 0) scale(1.100 1)" d="M0,0 L0.28,1 L0.56,0"/><path vector-effect="non-scaling-stroke" transform="translate(5.801 0) scale(1.100 1)" d="M0.44,0.02 L0,0.02 L0,1 L0.44,1 M0,0.5 L0.38,0.5"/><path vector-effect="non-scaling-stroke" transform="translate(6.654 0) scale(1.100 1)" d="M0,1 L0,0.02 C0.66,-0.02 0.66,0.56 0,0.54 L0.5,1"/><path vector-effect="non-scaling-stroke" transform="translate(7.573 0) scale(1.100 1)" d="M0.47,0.14 C0.38,-0.02 0.0,-0.03 0.0,0.25 C0.0,0.52 0.48,0.44 0.48,0.74 C0.48,1.04 0.06,1.04 0.0,0.86"/><path vector-effect="non-scaling-stroke" transform="translate(8.470 0) scale(1.100 1)" d="M0.44,0.02 L0,0.02 L0,1 L0.44,1 M0,0.5 L0.38,0.5"/><path vector-effect="non-scaling-stroke" transform="translate(9.743 0) scale(1.100 1)" d="M0.52,0.16 C0.42,-0.02 0.0,-0.06 0.0,0.5 C0.0,1.06 0.42,1.02 0.52,0.86"/><path vector-effect="non-scaling-stroke" transform="translate(10.684 0) scale(1.100 1)" d="M0.28,0 C0.65,0 0.65,1 0.28,1 C-0.09,1 -0.09,0 0.28,0 Z"/><path vector-effect="non-scaling-stroke" transform="translate(11.669 0) scale(1.100 1)" d="M0,0 L0,1 L0.42,1"/><path vector-effect="non-scaling-stroke" transform="translate(12.501 0) scale(1.100 1)" d="M0.28,0 C0.65,0 0.65,1 0.28,1 C-0.09,1 -0.09,0 0.28,0 Z"/><path vector-effect="non-scaling-stroke" transform="translate(13.486 0) scale(1.100 1)" d="M0,1 L0,0.02 L0.56,0.98 L0.56,0"/></g><g transform="translate(143.95 683.95) scale(24.6000 24.6000)" fill="none" stroke="#7242a2" stroke-width="3.90" stroke-linecap="round" stroke-linejoin="round" ><path vector-effect="non-scaling-stroke" transform="translate(0.000 0) scale(1.100 1)" d="M0.47,0.14 C0.38,-0.02 0.0,-0.03 0.0,0.25 C0.0,0.52 0.48,0.44 0.48,0.74 C0.48,1.04 0.06,1.04 0.0,0.86"/><path vector-effect="non-scaling-stroke" transform="translate(0.888 0) scale(1.100 1)" d="M0,0 L0,1"/><path vector-effect="non-scaling-stroke" transform="translate(1.248 0) scale(1.100 1)" d="M0.52,0.16 C0.42,-0.02 0.0,-0.06 0.0,0.5 C0.0,1.06 0.56,1.06 0.56,0.62 L0.32,0.62"/><path vector-effect="non-scaling-stroke" transform="translate(2.224 0) scale(1.100 1)" d="M0,1 L0.06,0.02 L0.35,0.68 L0.64,0.02 L0.7,1"/><path vector-effect="non-scaling-stroke" transform="translate(3.354 0) scale(1.100 1)" d="M0.28,0 C0.65,0 0.65,1 0.28,1 C-0.09,1 -0.09,0 0.28,0 Z"/><path vector-effect="non-scaling-stroke" transform="translate(4.331 0) scale(1.100 1)" d="M0,0 L0,1"/><path vector-effect="non-scaling-stroke" transform="translate(4.691 0) scale(1.100 1)" d="M0,0.02 L0,1 C0.74,1.02 0.74,-0.02 0,0.02"/><path vector-effect="non-scaling-stroke" transform="translate(6.076 0) scale(1.100 1)" d="M0.52,0.16 C0.42,-0.02 0.0,-0.06 0.0,0.5 C0.0,1.06 0.42,1.02 0.52,0.86"/><path vector-effect="non-scaling-stroke" transform="translate(7.008 0) scale(1.100 1)" d="M0.28,0 C0.65,0 0.65,1 0.28,1 C-0.09,1 -0.09,0 0.28,0 Z"/><path vector-effect="non-scaling-stroke" transform="translate(7.984 0) scale(1.100 1)" d="M0,0 L0,1 L0.42,1"/><path vector-effect="non-scaling-stroke" transform="translate(8.806 0) scale(1.100 1)" d="M0.28,0 C0.65,0 0.65,1 0.28,1 C-0.09,1 -0.09,0 0.28,0 Z"/><path vector-effect="non-scaling-stroke" transform="translate(9.782 0) scale(1.100 1)" d="M0,1 L0,0.02 L0.56,0.98 L0.56,0"/></g><g transform="translate(143.95 725.95) scale(24.6000 24.6000)" fill="none" stroke="#7242a2" stroke-width="3.90" stroke-linecap="round" stroke-linejoin="round" ><path vector-effect="non-scaling-stroke" transform="translate(0.000 0) scale(1.100 1)" d="M0,0 L0,1 L0.42,1"/><path vector-effect="non-scaling-stroke" transform="translate(0.855 0) scale(1.100 1)" d="M0,0 L0,1"/><path vector-effect="non-scaling-stroke" transform="translate(1.247 0) scale(1.100 1)" d="M0,0 L0.28,1 L0.56,0"/><path vector-effect="non-scaling-stroke" transform="translate(2.256 0) scale(1.100 1)" d="M0.44,0.02 L0,0.02 L0,1 L0.44,1 M0,0.5 L0.38,0.5"/><path vector-effect="non-scaling-stroke" transform="translate(3.133 0) scale(1.100 1)" d="M0,1 L0,0.02 C0.66,-0.02 0.66,0.56 0,0.54 L0.5,1"/></g><g transform="translate(143.95 767.95) scale(24.6000 24.6000)" fill="none" stroke="#7242a2" stroke-width="3.90" stroke-linecap="round" stroke-linejoin="round" ><path vector-effect="non-scaling-stroke" transform="translate(0.000 0) scale(1.100 1)" d="M0.47,0.14 C0.38,-0.02 0.0,-0.03 0.0,0.25 C0.0,0.52 0.48,0.44 0.48,0.74 C0.48,1.04 0.06,1.04 0.0,0.86"/><path vector-effect="non-scaling-stroke" transform="translate(0.907 0) scale(1.100 1)" d="M0,1 L0,0.02 C0.66,-0.02 0.66,0.56 0,0.54"/><path vector-effect="non-scaling-stroke" transform="translate(1.814 0) scale(1.100 1)" d="M0,0 L0,1 L0.42,1"/><path vector-effect="non-scaling-stroke" transform="translate(2.654 0) scale(1.100 1)" d="M0.44,0.02 L0,0.02 L0,1 L0.44,1 M0,0.5 L0.38,0.5"/><path vector-effect="non-scaling-stroke" transform="translate(3.517 0) scale(1.100 1)" d="M0.44,0.02 L0,0.02 L0,1 L0.44,1 M0,0.5 L0.38,0.5"/><path vector-effect="non-scaling-stroke" transform="translate(4.380 0) scale(1.100 1)" d="M0,1 L0,0.02 L0.56,0.98 L0.56,0"/></g><g transform="translate(1319.20 111.90) scale(29.2000 29.2000)" fill="none" stroke="#3a7bd0" stroke-width="9.80" stroke-linecap="round" stroke-linejoin="round" ><path vector-effect="non-scaling-stroke" transform="translate(0.000 0) scale(1.100 1)" d="M0,1 L0,0.02 C0.66,-0.02 0.66,0.56 0,0.54 L0.5,1"/><path vector-effect="non-scaling-stroke" transform="translate(1.113 0) scale(1.100 1)" d="M0.44,0.02 L0,0.02 L0,1 L0.44,1 M0,0.5 L0.38,0.5"/><path vector-effect="non-scaling-stroke" transform="translate(2.160 0) scale(1.100 1)" d="M0,0.02 L0.56,0.02 M0.28,0.02 L0.28,1"/><path vector-effect="non-scaling-stroke" transform="translate(3.339 0) scale(1.100 1)" d="M0,1 L0,0.02 C0.66,-0.02 0.66,0.56 0,0.54 L0.5,1"/><path vector-effect="non-scaling-stroke" transform="translate(4.453 0) scale(1.100 1)" d="M0.28,0 C0.65,0 0.65,1 0.28,1 C-0.09,1 -0.09,0 0.28,0 Z"/><path vector-effect="non-scaling-stroke" transform="translate(5.632 0) scale(1.100 1)" d="M0,1 L0,0.02 C0.66,-0.02 0.66,0.56 0,0.54"/><path vector-effect="non-scaling-stroke" transform="translate(6.723 0) scale(1.100 1)" d="M0.44,0.02 L0,0.02 L0,1 L0.44,1 M0,0.5 L0.38,0.5"/><path vector-effect="non-scaling-stroke" transform="translate(7.770 0) scale(1.100 1)" d="M0,1 L0,0.02 C0.66,-0.02 0.66,0.56 0,0.54 L0.5,1"/><path vector-effect="non-scaling-stroke" transform="translate(8.883 0) scale(1.100 1)" d="M0,0 L0,1"/><path vector-effect="non-scaling-stroke" transform="translate(9.446 0) scale(1.100 1)" d="M0,0.02 L0.56,0.02 M0.28,0.02 L0.28,1"/><path vector-effect="non-scaling-stroke" transform="translate(10.625 0) scale(1.100 1)" d="M0.28,0 C0.65,0 0.65,1 0.28,1 C-0.09,1 -0.09,0 0.28,0 Z"/><path vector-effect="non-scaling-stroke" transform="translate(11.804 0) scale(1.100 1)" d="M0,1 L0,0.02 L0.56,0.98 L0.56,0"/><path vector-effect="non-scaling-stroke" transform="translate(12.984 0) scale(1.100 1)" d="M0.44,0.02 L0,0.02 L0,1 L0.44,1 M0,0.5 L0.38,0.5"/><path vector-effect="non-scaling-stroke" transform="translate(14.031 0) scale(1.100 1)" d="M0,1 L0.26,0.04 Q0.3,-0.04 0.34,0.04 L0.6,1 M0.1,0.64 L0.5,0.64"/><path vector-effect="non-scaling-stroke" transform="translate(15.254 0) scale(1.100 1)" d="M0,0 L0,1 L0.42,1"/></g><g transform="translate(1316.10 166.10) scale(23.4000 23.4000)" fill="none" stroke="#3a7bd0" stroke-width="4.20" stroke-linecap="round" stroke-linejoin="round" ><path vector-effect="non-scaling-stroke" transform="translate(0.000 0) scale(1.100 1)" d="M0,1 L0,0.02 C0.66,-0.02 0.66,0.56 0,0.54"/><path vector-effect="non-scaling-stroke" transform="translate(0.897 0) scale(1.100 1)" d="M0,1 L0.26,0.04 Q0.3,-0.04 0.34,0.04 L0.6,1 M0.1,0.64 L0.5,0.64"/><path vector-effect="non-scaling-stroke" transform="translate(1.926 0) scale(1.100 1)" d="M0,1 L0,0.02 C0.66,-0.02 0.66,0.56 0,0.54 L0.5,1"/><path vector-effect="non-scaling-stroke" transform="translate(2.845 0) scale(1.100 1)" d="M0,0.02 L0.56,0.02 M0.28,0.02 L0.28,1"/><path vector-effect="non-scaling-stroke" transform="translate(3.830 0) scale(1.100 1)" d="M0,0 L0,1"/><path vector-effect="non-scaling-stroke" transform="translate(4.199 0) scale(1.100 1)" d="M0,1 L0.26,0.04 Q0.3,-0.04 0.34,0.04 L0.6,1 M0.1,0.64 L0.5,0.64"/><path vector-effect="non-scaling-stroke" transform="translate(5.228 0) scale(1.100 1)" d="M0,0 L0,1 L0.42,1"/><path vector-effect="non-scaling-stroke" transform="translate(6.059 0) scale(1.100 1)" d="M0,0 L0,1 L0.42,1"/><path vector-effect="non-scaling-stroke" transform="translate(6.890 0) scale(1.100 1)" d="M0,0 L0.27,0.5 L0.54,0 M0.27,0.5 L0.27,1"/><path vector-effect="non-scaling-stroke" transform="translate(8.273 0) scale(1.100 1)" d="M0.52,0.16 C0.42,-0.02 0.0,-0.06 0.0,0.5 C0.0,1.06 0.42,1.02 0.52,0.86"/><path vector-effect="non-scaling-stroke" transform="translate(9.214 0) scale(1.100 1)" d="M0.28,0 C0.65,0 0.65,1 0.28,1 C-0.09,1 -0.09,0 0.28,0 Z"/><path vector-effect="non-scaling-stroke" transform="translate(10.199 0) scale(1.100 1)" d="M0,0 L0.28,1 L0.56,0"/><path vector-effect="non-scaling-stroke" transform="translate(11.184 0) scale(1.100 1)" d="M0.44,0.02 L0,0.02 L0,1 L0.44,1 M0,0.5 L0.38,0.5"/><path vector-effect="non-scaling-stroke" transform="translate(12.037 0) scale(1.100 1)" d="M0,1 L0,0.02 C0.66,-0.02 0.66,0.56 0,0.54 L0.5,1"/><path vector-effect="non-scaling-stroke" transform="translate(12.956 0) scale(1.100 1)" d="M0.44,0.02 L0,0.02 L0,1 L0.44,1 M0,0.5 L0.38,0.5"/><path vector-effect="non-scaling-stroke" transform="translate(13.810 0) scale(1.100 1)" d="M0,0.02 L0,1 C0.74,1.02 0.74,-0.02 0,0.02"/></g><g transform="translate(1670.60 166.10) scale(23.4000 23.4000)" fill="none" stroke="#3a7bd0" stroke-width="4.20" stroke-linecap="round" stroke-linejoin="round" ><path vector-effect="non-scaling-stroke" transform="translate(0.000 0) scale(1.100 1)" d="M0,0.44 L0.15,1 L0.31,0.56 L0.47,1 L0.62,0.44"/><path vector-effect="non-scaling-stroke" transform="translate(0.950 0) scale(1.100 1)" d="M0,0.46 L0,1 M0,0.24 L0,0.25"/><path vector-effect="non-scaling-stroke" transform="translate(1.217 0) scale(1.100 1)" d="M0.12,0.16 L0.12,0.88 C0.12,1.02 0.28,1.02 0.34,0.94 M0,0.46 L0.32,0.46"/><path vector-effect="non-scaling-stroke" transform="translate(1.859 0) scale(1.100 1)" d="M0,0.14 L0,1 M0,0.66 C0.04,0.4 0.42,0.4 0.42,0.66 L0.42,1"/></g><g transform="translate(1316.10 208.10) scale(24.3000 24.3000)" fill="none" stroke="#3a7bd0" stroke-width="4.20" stroke-linecap="round" stroke-linejoin="round" ><path vector-effect="non-scaling-stroke" transform="translate(0.000 0) scale(1.100 1)" d="M0,1 L0,0.02 C0.66,-0.02 0.66,0.56 0,0.54"/><path vector-effect="non-scaling-stroke" transform="translate(0.870 0) scale(1.100 1)" d="M0.44,0.02 L0,0.02 L0,1 L0.44,1 M0,0.5 L0.38,0.5"/><path vector-effect="non-scaling-stroke" transform="translate(1.696 0) scale(1.100 1)" d="M0,1 L0,0.02 C0.66,-0.02 0.66,0.56 0,0.54 L0.5,1"/><path vector-effect="non-scaling-stroke" transform="translate(2.588 0) scale(1.100 1)" d="M0,0 L0,1"/><path vector-effect="non-scaling-stroke" transform="translate(2.929 0) scale(1.100 1)" d="M0,0.02 L0.56,0.02 M0.28,0.02 L0.28,1"/><path vector-effect="non-scaling-stroke" transform="translate(3.887 0) scale(1.100 1)" d="M0.28,0 C0.65,0 0.65,1 0.28,1 C-0.09,1 -0.09,0 0.28,0 Z"/><path vector-effect="non-scaling-stroke" transform="translate(4.845 0) scale(1.100 1)" d="M0,1 L0,0.02 L0.56,0.98 L0.56,0"/><path vector-effect="non-scaling-stroke" transform="translate(5.803 0) scale(1.100 1)" d="M0.44,0.02 L0,0.02 L0,1 L0.44,1 M0,0.5 L0.38,0.5"/><path vector-effect="non-scaling-stroke" transform="translate(6.629 0) scale(1.100 1)" d="M0,0 L0,0.68 C0,1.06 0.55,1.06 0.55,0.68 L0.55,0"/><path vector-effect="non-scaling-stroke" transform="translate(7.576 0) scale(1.100 1)" d="M0,1 L0.06,0.02 L0.35,0.68 L0.64,0.02 L0.7,1"/></g><g transform="translate(1351.95 279.45) scale(24.6000 24.6000)" fill="none" stroke="#2f6cb9" stroke-width="3.90" stroke-linecap="round" stroke-linejoin="round" ><path vector-effect="non-scaling-stroke" transform="translate(0.000 0) scale(1.100 1)" d="M0,0 L0,1 M0.5,0 L0.02,0.62 M0.16,0.46 L0.5,1"/><path vector-effect="non-scaling-stroke" transform="translate(0.935 0) scale(1.100 1)" d="M0,0 L0,1"/><path vector-effect="non-scaling-stroke" transform="translate(1.319 0) scale(1.100 1)" d="M0,0.02 L0,1 C0.74,1.02 0.74,-0.02 0,0.02"/><path vector-effect="non-scaling-stroke" transform="translate(2.309 0) scale(1.100 1)" d="M0,1 L0,0.02 L0.56,0.98 L0.56,0"/><path vector-effect="non-scaling-stroke" transform="translate(3.310 0) scale(1.100 1)" d="M0.44,0.02 L0,0.02 L0,1 L0.44,1 M0,0.5 L0.38,0.5"/><path vector-effect="non-scaling-stroke" transform="translate(4.178 0) scale(1.100 1)" d="M0,0 L0.27,0.5 L0.54,0 M0.27,0.5 L0.27,1"/><path vector-effect="non-scaling-stroke" transform="translate(5.157 0) scale(1.100 1)" d="M0.47,0.14 C0.38,-0.02 0.0,-0.03 0.0,0.25 C0.0,0.52 0.48,0.44 0.48,0.74 C0.48,1.04 0.06,1.04 0.0,0.86"/></g><g transform="translate(1351.95 320.95) scale(24.6000 24.6000)" fill="none" stroke="#2f6cb9" stroke-width="3.90" stroke-linecap="round" stroke-linejoin="round" ><path vector-effect="non-scaling-stroke" transform="translate(0.000 0) scale(1.100 1)" d="M0,0 L0,0.68 C0,1.06 0.55,1.06 0.55,0.68 L0.55,0"/><path vector-effect="non-scaling-stroke" transform="translate(0.976 0) scale(1.100 1)" d="M0,1 L0,0.02 C0.66,-0.02 0.66,0.56 0,0.54 L0.5,1"/><path vector-effect="non-scaling-stroke" transform="translate(1.896 0) scale(1.100 1)" d="M0.44,0.02 L0,0.02 L0,1 L0.44,1 M0,0.5 L0.38,0.5"/><path vector-effect="non-scaling-stroke" transform="translate(2.751 0) scale(1.100 1)" d="M0,0.02 L0.56,0.02 M0.28,0.02 L0.28,1"/><path vector-effect="non-scaling-stroke" transform="translate(3.737 0) scale(1.100 1)" d="M0.44,0.02 L0,0.02 L0,1 L0.44,1 M0,0.5 L0.38,0.5"/><path vector-effect="non-scaling-stroke" transform="translate(4.592 0) scale(1.100 1)" d="M0,1 L0,0.02 C0.66,-0.02 0.66,0.56 0,0.54 L0.5,1"/><path vector-effect="non-scaling-stroke" transform="translate(5.513 0) scale(1.100 1)" d="M0.47,0.14 C0.38,-0.02 0.0,-0.03 0.0,0.25 C0.0,0.52 0.48,0.44 0.48,0.74 C0.48,1.04 0.06,1.04 0.0,0.86"/></g><g transform="translate(1351.95 364.45) scale(23.6000 23.6000)" fill="none" stroke="#2f6cb9" stroke-width="3.90" stroke-linecap="round" stroke-linejoin="round" ><path vector-effect="non-scaling-stroke" transform="translate(0.000 0) scale(1.100 1)" d="M0.47,0.14 C0.38,-0.02 0.0,-0.03 0.0,0.25 C0.0,0.52 0.48,0.44 0.48,0.74 C0.48,1.04 0.06,1.04 0.0,0.86"/><path vector-effect="non-scaling-stroke" transform="translate(0.895 0) scale(1.100 1)" d="M0,0 L0,0.68 C0,1.06 0.55,1.06 0.55,0.68 L0.55,0"/><path vector-effect="non-scaling-stroke" transform="translate(1.867 0) scale(1.100 1)" d="M0,1 L0,0.02 C0.66,-0.02 0.66,0.56 0,0.54"/><path vector-effect="non-scaling-stroke" transform="translate(2.762 0) scale(1.100 1)" d="M0,1 L0,0.02 C0.66,-0.02 0.66,0.56 0,0.54 L0.5,1"/><path vector-effect="non-scaling-stroke" transform="translate(3.679 0) scale(1.100 1)" d="M0,1 L0.26,0.04 Q0.3,-0.04 0.34,0.04 L0.6,1 M0.1,0.64 L0.5,0.64"/><path vector-effect="non-scaling-stroke" transform="translate(4.705 0) scale(1.100 1)" d="M0,1 L0,0.02 C0.66,-0.02 0.66,0.56 0,0.54 L0.5,1"/><path vector-effect="non-scaling-stroke" transform="translate(5.622 0) scale(1.100 1)" d="M0.44,0.02 L0,0.02 L0,1 L0.44,1 M0,0.5 L0.38,0.5"/><path vector-effect="non-scaling-stroke" transform="translate(6.473 0) scale(1.100 1)" d="M0,1 L0,0.02 L0.56,0.98 L0.56,0"/><path vector-effect="non-scaling-stroke" transform="translate(7.456 0) scale(1.100 1)" d="M0,1 L0.26,0.04 Q0.3,-0.04 0.34,0.04 L0.6,1 M0.1,0.64 L0.5,0.64"/><path vector-effect="non-scaling-stroke" transform="translate(8.483 0) scale(1.100 1)" d="M0,0 L0,1 L0.42,1"/></g><g transform="translate(1350.70 406.95) scale(23.6000 23.6000)" fill="none" stroke="#2f6cb9" stroke-width="3.90" stroke-linecap="round" stroke-linejoin="round" ><path vector-effect="non-scaling-stroke" transform="translate(0.000 0) scale(1.100 1)" d="M0.52,0.16 C0.42,-0.02 0.0,-0.06 0.0,0.5 C0.0,1.06 0.56,1.06 0.56,0.62 L0.32,0.62"/><path vector-effect="non-scaling-stroke" transform="translate(1.049 0) scale(1.100 1)" d="M0,0 L0,1 L0.42,1"/><path vector-effect="non-scaling-stroke" transform="translate(1.943 0) scale(1.100 1)" d="M0,1 L0.26,0.04 Q0.3,-0.04 0.34,0.04 L0.6,1 M0.1,0.64 L0.5,0.64"/><path vector-effect="non-scaling-stroke" transform="translate(3.036 0) scale(1.100 1)" d="M0,1 L0,0.02 L0.56,0.98 L0.56,0"/><path vector-effect="non-scaling-stroke" transform="translate(4.085 0) scale(1.100 1)" d="M0,0.02 L0,1 C0.74,1.02 0.74,-0.02 0,0.02"/><path vector-effect="non-scaling-stroke" transform="translate(5.122 0) scale(1.100 1)" d="M0.47,0.14 C0.38,-0.02 0.0,-0.03 0.0,0.25 C0.0,0.52 0.48,0.44 0.48,0.74 C0.48,1.04 0.06,1.04 0.0,0.86"/></g><g transform="translate(1351.95 447.95) scale(24.1000 24.1000)" fill="none" stroke="#2f6cb9" stroke-width="3.90" stroke-linecap="round" stroke-linejoin="round" ><path vector-effect="non-scaling-stroke" transform="translate(0.000 0) scale(1.100 1)" d="M0,1 L0,0.02 C0.66,-0.02 0.66,0.56 0,0.54 L0.5,1"/><path vector-effect="non-scaling-stroke" transform="translate(0.919 0) scale(1.100 1)" d="M0.44,0.02 L0,0.02 L0,1 L0.44,1 M0,0.5 L0.38,0.5"/><path vector-effect="non-scaling-stroke" transform="translate(1.771 0) scale(1.100 1)" d="M0.52,0.16 C0.42,-0.02 0.0,-0.06 0.0,0.5 C0.0,1.06 0.42,1.02 0.52,0.86"/><path vector-effect="non-scaling-stroke" transform="translate(2.712 0) scale(1.100 1)" d="M0,0.02 L0.56,0.02 M0.28,0.02 L0.28,1"/><path vector-effect="non-scaling-stroke" transform="translate(3.696 0) scale(1.100 1)" d="M0,0 L0,0.68 C0,1.06 0.55,1.06 0.55,0.68 L0.55,0"/><path vector-effect="non-scaling-stroke" transform="translate(4.670 0) scale(1.100 1)" d="M0,1 L0.06,0.02 L0.35,0.68 L0.64,0.02 L0.7,1"/></g>
</svg>
</body></html>
